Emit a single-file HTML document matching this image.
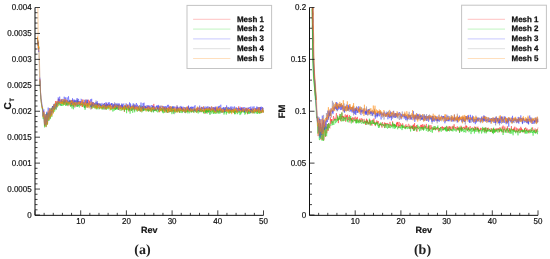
<!DOCTYPE html>
<html><head><meta charset="utf-8"><style>
html,body{margin:0;padding:0;background:#fff;}
svg{display:block;text-rendering:geometricPrecision;}
.t{font-family:"Liberation Sans",Arial,sans-serif;font-size:8.6px;fill:#111;stroke:#111;stroke-width:0.2px;}
.lg{font-family:"Liberation Sans",Arial,sans-serif;font-size:7.95px;font-weight:bold;fill:#111;stroke:#111;stroke-width:0.25px;}
.ax{font-family:"Liberation Sans",Arial,sans-serif;font-size:9px;font-weight:bold;fill:#111;stroke:#111;stroke-width:0.2px;}
.cap{font-family:"Liberation Serif","Times New Roman",serif;font-size:14px;font-weight:bold;fill:#222;}
</style></head><body>
<svg width="550" height="259" viewBox="0 0 550 259">
<polyline points="37.5,39.1 37.7,39.7 37.9,41.8 38.0,44.2 38.2,41.9 38.4,48.4 38.5,46.6 38.7,47.7 38.9,48.4" fill="none" stroke="#ff2020" stroke-width="0.7" stroke-linejoin="bevel"/>
<polyline points="38.9,50 39.30,70 39.90,86" fill="none" stroke="#ff2020" stroke-width="0.4" stroke-opacity="0.35"/>
<polyline points="37.5,40.4 37.7,41.4 37.9,43.6 38.0,44.5 38.2,44.9 38.4,46.4 38.5,48.7 38.7,47.3 38.9,49.9" fill="none" stroke="#8a7a9a" stroke-width="0.7" stroke-linejoin="bevel"/>
<polyline points="38.9,50 39.75,70 40.20,86" fill="none" stroke="#8a7a9a" stroke-width="0.4" stroke-opacity="0.35"/>
<polyline points="37.5,39.6 37.7,39.7 37.9,42.8 38.0,42.6 38.2,45.5 38.4,46.1 38.5,47.9 38.7,46.3 38.9,48.7" fill="none" stroke="#18d818" stroke-width="0.7" stroke-linejoin="bevel"/>
<polyline points="38.9,50 39.45,70 40.00,86" fill="none" stroke="#18d818" stroke-width="0.4" stroke-opacity="0.35"/>
<polyline points="37.5,41.0 37.7,40.6 37.9,41.6 38.0,44.6 38.2,45.6 38.4,45.8 38.5,46.3 38.7,51.6 38.9,51.0" fill="none" stroke="#3535ff" stroke-width="0.7" stroke-linejoin="bevel"/>
<polyline points="38.9,50 39.60,70 40.10,86" fill="none" stroke="#3535ff" stroke-width="0.4" stroke-opacity="0.35"/>
<polyline points="37.5,36.6 37.7,41.6 37.9,42.9 38.0,44.3 38.2,43.9 38.4,48.1 38.5,46.1 38.7,50.4 38.9,50.4" fill="none" stroke="#ff8a10" stroke-width="0.7" stroke-linejoin="bevel"/>
<polyline points="38.9,50 39.90,70 40.30,86" fill="none" stroke="#ff8a10" stroke-width="0.4" stroke-opacity="0.35"/>
<polyline points="37.6,39 37.9,7.5 39.3,60 39.6,84" fill="none" stroke="#ff8a10" stroke-width="0.45" stroke-opacity="0.45"/>
<polyline points="39.9,79.1 40.2,85.4 40.5,92.4 40.8,97.5 41.0,99.6 41.3,102.1 41.6,104.7 41.9,106.9 42.2,108.0 42.5,107.8 42.8,111.4 43.0,116.7 43.3,117.2 43.6,112.4 43.9,111.4 44.2,118.1 44.5,125.8 44.8,121.6 45.1,117.2 45.3,116.0 45.6,119.9 45.9,125.6 46.2,123.9 46.5,118.5 46.8,114.3 47.1,116.6 47.3,123.8 47.6,123.7 47.9,116.7 48.2,112.9 48.5,115.4 48.8,117.6 49.1,119.4 49.3,113.1 49.6,110.5 49.9,115.5 50.2,117.3 50.5,116.8 50.8,112.6 51.1,108.3 51.4,109.7 51.6,113.1 51.9,115.3 52.2,110.7 52.5,106.2 52.8,110.5 53.1,112.0 53.4,109.4 53.6,109.1 53.9,105.1 54.2,104.2 54.5,110.0 54.8,108.8 55.1,105.8 55.4,105.0 55.6,101.0 55.9,104.8 56.2,106.6 56.5,105.4 56.8,101.7 57.1,101.6 57.4,103.4 57.7,105.3 57.9,104.8 58.2,99.6 58.5,98.8 58.8,103.3 59.1,103.6 59.4,101.5 59.7,102.7 59.9,103.1 60.2,102.0 60.5,102.9 60.8,103.7 61.1,100.9 61.4,99.4 61.7,102.7 61.9,102.0 62.2,103.4 62.5,100.9 62.8,101.4 63.1,103.6 63.4,103.3 63.7,101.8 63.9,100.1 64.2,104.5 64.5,104.5 64.8,101.0 65.1,101.2 65.4,102.8 65.7,100.7 66.0,102.7 66.2,104.9 66.5,103.4 66.8,101.9 67.1,101.0 67.4,102.6 67.7,104.3 68.0,106.2 68.2,104.0 68.5,101.6 68.8,104.3 69.1,104.0 69.4,101.1 69.7,102.3 70.0,103.7 70.2,101.9 70.5,105.5 70.8,103.3 71.1,102.7 71.4,100.2 71.7,106.4 72.0,104.8 72.3,105.6 72.5,102.2 72.8,99.9 73.1,105.0 73.4,102.9 73.7,106.9 74.0,102.9 74.3,105.1 74.5,101.9 74.8,101.3 75.1,105.5 75.4,103.2 75.7,102.6 76.0,104.9 76.3,102.8 76.5,102.4 76.8,101.7 77.1,100.0 77.4,100.3 77.7,102.3 78.0,103.1 78.3,103.0 78.6,101.0 78.8,103.1 79.1,105.6 79.4,104.4 79.7,104.6 80.0,101.6 80.3,103.8 80.6,105.2 80.8,103.8 81.1,101.6 81.4,102.8 81.7,103.3 82.0,106.7 82.3,104.3 82.6,106.9 82.8,99.4 83.1,102.9 83.4,103.6 83.7,104.4 84.0,103.5 84.3,103.3 84.6,106.0 84.8,104.2 85.1,107.0 85.4,104.4 85.7,103.7 86.0,99.7 86.3,104.6 86.6,106.2 86.9,103.0 87.1,102.8 87.4,102.3 87.7,107.9 88.0,103.8 88.3,103.8 88.6,99.7 88.9,101.2 89.1,105.0 89.4,103.5 89.7,100.8 90.0,103.7 90.3,104.0 90.6,105.1 90.9,106.2 91.1,104.4 91.4,108.8 91.7,103.2 92.0,105.6 92.3,103.8 92.6,104.7 92.9,102.3 93.2,104.6 93.4,104.4 93.7,104.4 94.0,102.8 94.3,105.8 94.6,105.7 94.9,106.5 95.2,106.0 95.4,107.3 95.7,106.7 96.0,105.5 96.3,107.5 96.6,106.1 96.9,106.8 97.2,103.3 97.4,108.2 97.7,104.4 98.0,107.1 98.3,107.7 98.6,104.7 98.9,105.2 99.2,106.8 99.5,106.6 99.7,106.6 100.0,105.7 100.3,104.4 100.6,105.6 100.9,107.4 101.2,107.9 101.5,108.0 101.7,105.7 102.0,105.1 102.3,108.2 102.6,107.8 102.9,108.0 103.2,106.0 103.5,106.7 103.7,107.5 104.0,108.5 104.3,105.3 104.6,105.7 104.9,106.2 105.2,109.5 105.5,107.4 105.7,107.5 106.0,105.7 106.3,103.0 106.6,108.8 106.9,108.5 107.2,108.8 107.5,104.1 107.8,106.5 108.0,107.2 108.3,105.3 108.6,107.8 108.9,105.3 109.2,106.8 109.5,104.6 109.8,106.4 110.0,106.2 110.3,104.1 110.6,106.2 110.9,108.9 111.2,107.7 111.5,108.3 111.8,108.6 112.0,107.0 112.3,106.5 112.6,105.0 112.9,108.0 113.2,106.1 113.5,105.6 113.8,108.0 114.1,108.6 114.3,105.4 114.6,107.1 114.9,105.9 115.2,108.2 115.5,107.8 115.8,109.1 116.1,105.9 116.3,105.8 116.6,106.3 116.9,107.7 117.2,107.5 117.5,108.7 117.8,105.1 118.1,107.2 118.3,106.3 118.6,105.9 118.9,106.3 119.2,104.4 119.5,107.3 119.8,106.9 120.1,107.3 120.4,107.9 120.6,108.8 120.9,106.3 121.2,105.3 121.5,107.6 121.8,107.4 122.1,108.3 122.4,107.0 122.6,106.8 122.9,109.6 123.2,109.0 123.5,106.6 123.8,107.5 124.1,108.6 124.4,111.9 124.6,106.9 124.9,106.4 125.2,107.0 125.5,109.1 125.8,108.1 126.1,108.5 126.4,108.3 126.6,109.9 126.9,107.9 127.2,108.1 127.5,107.5 127.8,104.7 128.1,105.7 128.4,108.3 128.7,108.9 128.9,111.6 129.2,109.0 129.5,108.3 129.8,110.1 130.1,107.8 130.4,107.5 130.7,106.4 130.9,107.1 131.2,111.1 131.5,108.4 131.8,107.5 132.1,107.6 132.4,108.5 132.7,108.8 132.9,110.0 133.2,106.9 133.5,106.5 133.8,107.2 134.1,108.3 134.4,110.7 134.7,106.9 135.0,108.6 135.2,107.2 135.5,109.1 135.8,108.1 136.1,106.9 136.4,109.5 136.7,108.0 137.0,105.6 137.2,109.9 137.5,107.5 137.8,107.9 138.1,107.6 138.4,106.5 138.7,110.5 139.0,108.3 139.2,110.3 139.5,108.4 139.8,109.0 140.1,109.4 140.4,111.7 140.7,106.9 141.0,106.7 141.3,107.4 141.5,110.6 141.8,110.6 142.1,108.5 142.4,108.2 142.7,106.1 143.0,111.1 143.3,108.9 143.5,108.7 143.8,107.5 144.1,109.2 144.4,108.8 144.7,109.5 145.0,108.7 145.3,107.3 145.5,107.5 145.8,109.7 146.1,109.9 146.4,109.7 146.7,110.0 147.0,106.7 147.3,106.7 147.5,108.9 147.8,110.6 148.1,108.1 148.4,105.9 148.7,111.3 149.0,110.2 149.3,106.9 149.6,107.1 149.8,108.5 150.1,108.4 150.4,109.4 150.7,109.8 151.0,108.3 151.3,110.3 151.6,108.9 151.8,111.6 152.1,108.4 152.4,106.9 152.7,105.6 153.0,108.0 153.3,109.8 153.6,110.6 153.8,103.9 154.1,108.4 154.4,107.8 154.7,110.7 155.0,108.7 155.3,109.0 155.6,110.9 155.9,109.3 156.1,109.5 156.4,110.8 156.7,109.1 157.0,108.2 157.3,107.0 157.6,109.3 157.9,107.3 158.1,109.1 158.4,109.3 158.7,109.2 159.0,112.3 159.3,108.1 159.6,109.4 159.9,108.6 160.1,107.6 160.4,110.5 160.7,110.8 161.0,110.5 161.3,108.4 161.6,110.0 161.9,109.0 162.1,111.8 162.4,111.5 162.7,108.9 163.0,109.5 163.3,108.5 163.6,109.9 163.9,108.7 164.2,109.1 164.4,107.3 164.7,112.3 165.0,110.2 165.3,110.8 165.6,109.5 165.9,108.8 166.2,112.5 166.4,111.6 166.7,107.4 167.0,108.9 167.3,108.9 167.6,108.9 167.9,113.0 168.2,107.9 168.4,111.0 168.7,106.9 169.0,111.8 169.3,109.5 169.6,106.6 169.9,109.4 170.2,109.9 170.5,108.7 170.7,111.7 171.0,107.5 171.3,110.7 171.6,110.1 171.9,112.4 172.2,109.8 172.5,111.1 172.7,108.4 173.0,110.4 173.3,110.3 173.6,111.5 173.9,108.3 174.2,110.0 174.5,109.8 174.7,112.0 175.0,110.0 175.3,109.8 175.6,110.3 175.9,110.1 176.2,106.6 176.5,110.1 176.8,111.3 177.0,109.0 177.3,106.9 177.6,109.5 177.9,110.5 178.2,109.0 178.5,109.7 178.8,107.9 179.0,109.7 179.3,110.7 179.6,112.7 179.9,110.1 180.2,111.2 180.5,110.3 180.8,109.0 181.0,108.8 181.3,110.8 181.6,107.3 181.9,107.8 182.2,111.8 182.5,109.3 182.8,108.2 183.0,111.7 183.3,108.8 183.6,111.4 183.9,110.4 184.2,110.0 184.5,109.5 184.8,111.2 185.1,112.5 185.3,109.3 185.6,111.9 185.9,109.2 186.2,109.6 186.5,111.4 186.8,109.8 187.1,108.7 187.3,111.5 187.6,109.1 187.9,107.6 188.2,106.2 188.5,110.4 188.8,109.3 189.1,112.1 189.3,108.9 189.6,109.0 189.9,110.1 190.2,111.4 190.5,111.7 190.8,110.5 191.1,109.8 191.4,110.3 191.6,111.7 191.9,109.7 192.2,109.8 192.5,111.3 192.8,110.5 193.1,109.8 193.4,112.6 193.6,111.3 193.9,110.9 194.2,109.8 194.5,109.4 194.8,110.5 195.1,111.4 195.4,109.9 195.6,109.6 195.9,109.4 196.2,108.5 196.5,111.9 196.8,109.5 197.1,110.6 197.4,111.1 197.7,108.5 197.9,109.2 198.2,110.6 198.5,111.1 198.8,110.1 199.1,109.9 199.4,112.0 199.7,110.0 199.9,109.6 200.2,110.8 200.5,110.0 200.8,111.6 201.1,112.2 201.4,109.1 201.7,107.2 201.9,110.5 202.2,110.2 202.5,111.2 202.8,109.4 203.1,111.1 203.4,109.5 203.7,111.0 203.9,112.0 204.2,110.8 204.5,110.0 204.8,108.9 205.1,113.9 205.4,108.9 205.7,111.6 206.0,108.1 206.2,108.7 206.5,112.1 206.8,109.8 207.1,112.2 207.4,109.7 207.7,111.0 208.0,108.3 208.2,109.2 208.5,112.7 208.8,110.7 209.1,108.5 209.4,109.5 209.7,107.0 210.0,110.4 210.2,108.5 210.5,108.6 210.8,112.2 211.1,110.0 211.4,110.0 211.7,108.8 212.0,110.8 212.3,110.9 212.5,109.5 212.8,108.6 213.1,110.1 213.4,110.1 213.7,107.4 214.0,112.2 214.3,109.6 214.5,110.5 214.8,108.9 215.1,109.0 215.4,111.9 215.7,111.0 216.0,108.4 216.3,110.4 216.5,111.2 216.8,110.4 217.1,112.3 217.4,109.3 217.7,111.3 218.0,110.4 218.3,110.8 218.6,112.7 218.8,111.5 219.1,109.6 219.4,110.7 219.7,109.7 220.0,111.6 220.3,112.4 220.6,111.7 220.8,109.1 221.1,110.2 221.4,111.8 221.7,111.4 222.0,109.1 222.3,110.4 222.6,111.0 222.8,113.0 223.1,111.0 223.4,110.1 223.7,108.6 224.0,108.7 224.3,112.1 224.6,110.8 224.8,109.6 225.1,111.4 225.4,111.1 225.7,110.8 226.0,111.8 226.3,109.7 226.6,111.1 226.9,111.0 227.1,110.3 227.4,110.3 227.7,109.4 228.0,111.3 228.3,110.3 228.6,109.5 228.9,111.8 229.1,111.0 229.4,110.2 229.7,110.7 230.0,110.4 230.3,110.1 230.6,111.6 230.9,108.6 231.1,108.4 231.4,109.1 231.7,112.1 232.0,109.0 232.3,109.8 232.6,109.4 232.9,109.5 233.2,110.7 233.4,110.3 233.7,112.8 234.0,109.9 234.3,111.2 234.6,113.7 234.9,112.5 235.2,111.1 235.4,111.6 235.7,110.8 236.0,112.1 236.3,111.0 236.6,109.2 236.9,112.7 237.2,110.9 237.4,111.8 237.7,110.0 238.0,108.7 238.3,108.0 238.6,106.4 238.9,111.9 239.2,108.4 239.5,109.6 239.7,110.4 240.0,108.8 240.3,110.4 240.6,111.3 240.9,110.0 241.2,111.2 241.5,107.2 241.7,111.9 242.0,112.0 242.3,108.6 242.6,111.4 242.9,110.3 243.2,110.7 243.5,111.6 243.7,108.5 244.0,111.5 244.3,109.8 244.6,112.1 244.9,110.8 245.2,110.9 245.5,109.3 245.7,110.7 246.0,109.5 246.3,110.0 246.6,108.6 246.9,110.3 247.2,109.4 247.5,114.2 247.8,109.8 248.0,107.7 248.3,111.9 248.6,110.2 248.9,111.8 249.2,111.1 249.5,109.5 249.8,109.6 250.0,109.3 250.3,113.0 250.6,111.9 250.9,108.9 251.2,111.8 251.5,111.5 251.8,108.9 252.0,110.0 252.3,111.2 252.6,110.8 252.9,113.4 253.2,111.1 253.5,112.4 253.8,110.1 254.1,110.3 254.3,110.7 254.6,111.0 254.9,111.4 255.2,110.9 255.5,108.3 255.8,111.6 256.1,109.5 256.3,112.2 256.6,111.7 256.9,111.5 257.2,109.9 257.5,111.4 257.8,112.1 258.1,110.1 258.3,108.6 258.6,113.0 258.9,110.7 259.2,110.5 259.5,109.6 259.8,108.9 260.1,107.1 260.4,109.6 260.6,109.7 260.9,109.8 261.2,113.2 261.5,110.5 261.8,110.5 262.1,111.3 262.4,110.0 262.6,112.4 262.9,112.4 263.2,110.1 263.5,112.6" fill="none" stroke="#ff2020" stroke-width="0.45" stroke-opacity="1.0" stroke-linejoin="bevel"/>
<polyline points="39.9,79.8 40.2,83.8 40.5,92.8 40.8,96.9 41.0,100.0 41.3,101.7 41.6,104.9 41.9,105.8 42.2,106.7 42.5,108.1 42.8,111.9 43.0,116.6 43.3,116.8 43.6,112.7 43.9,112.7 44.2,118.3 44.5,124.6 44.8,121.2 45.1,119.0 45.3,114.7 45.6,122.4 45.9,127.2 46.2,127.1 46.5,119.2 46.8,114.4 47.1,120.9 47.3,122.5 47.6,123.6 47.9,112.6 48.2,112.0 48.5,116.8 48.8,120.2 49.1,118.0 49.3,111.7 49.6,109.4 49.9,114.2 50.2,117.9 50.5,115.4 50.8,109.1 51.1,109.3 51.4,107.9 51.6,112.9 51.9,112.3 52.2,110.6 52.5,106.9 52.8,108.8 53.1,111.6 53.4,110.0 53.6,108.5 53.9,107.2 54.2,105.9 54.5,109.7 54.8,108.7 55.1,107.7 55.4,104.6 55.6,105.6 55.9,107.0 56.2,109.6 56.5,103.9 56.8,101.8 57.1,101.8 57.4,105.6 57.7,104.0 57.9,102.1 58.2,102.7 58.5,103.7 58.8,104.2 59.1,99.2 59.4,100.9 59.7,99.4 59.9,99.3 60.2,101.7 60.5,106.0 60.8,101.7 61.1,99.9 61.4,102.4 61.7,102.4 61.9,103.2 62.2,101.2 62.5,101.2 62.8,101.9 63.1,99.1 63.4,100.3 63.7,104.2 63.9,102.7 64.2,100.3 64.5,100.5 64.8,102.7 65.1,100.5 65.4,100.8 65.7,103.9 66.0,102.4 66.2,105.0 66.5,102.3 66.8,102.2 67.1,103.6 67.4,100.0 67.7,102.6 68.0,102.6 68.2,102.2 68.5,104.0 68.8,103.5 69.1,100.8 69.4,102.6 69.7,100.5 70.0,100.0 70.2,105.7 70.5,101.7 70.8,103.7 71.1,101.0 71.4,103.1 71.7,103.0 72.0,103.7 72.3,103.3 72.5,104.3 72.8,100.3 73.1,101.3 73.4,101.8 73.7,105.8 74.0,102.2 74.3,100.3 74.5,101.9 74.8,107.8 75.1,103.7 75.4,104.2 75.7,102.9 76.0,102.7 76.3,102.7 76.5,103.5 76.8,102.5 77.1,98.7 77.4,107.0 77.7,105.4 78.0,104.4 78.3,103.0 78.6,101.2 78.8,104.4 79.1,103.6 79.4,105.1 79.7,101.2 80.0,103.2 80.3,106.2 80.6,103.6 80.8,105.8 81.1,103.8 81.4,104.6 81.7,104.8 82.0,104.2 82.3,103.7 82.6,104.4 82.8,103.1 83.1,102.1 83.4,104.9 83.7,105.5 84.0,102.7 84.3,103.0 84.6,107.9 84.8,105.6 85.1,105.1 85.4,108.4 85.7,102.6 86.0,99.3 86.3,101.2 86.6,102.6 86.9,105.0 87.1,105.1 87.4,100.0 87.7,106.2 88.0,103.2 88.3,105.2 88.6,104.5 88.9,104.2 89.1,104.5 89.4,105.6 89.7,103.2 90.0,104.4 90.3,105.2 90.6,106.0 90.9,109.6 91.1,107.0 91.4,105.4 91.7,106.5 92.0,105.1 92.3,103.6 92.6,102.0 92.9,106.5 93.2,105.0 93.4,106.2 93.7,105.3 94.0,106.3 94.3,107.7 94.6,104.8 94.9,103.3 95.2,105.3 95.4,108.2 95.7,103.4 96.0,100.5 96.3,101.6 96.6,104.1 96.9,107.5 97.2,105.5 97.4,103.6 97.7,103.3 98.0,106.2 98.3,106.3 98.6,104.8 98.9,104.6 99.2,104.3 99.5,109.3 99.7,103.1 100.0,106.1 100.3,103.6 100.6,106.6 100.9,106.2 101.2,107.4 101.5,106.9 101.7,105.6 102.0,107.1 102.3,104.5 102.6,108.4 102.9,105.9 103.2,106.0 103.5,107.9 103.7,108.3 104.0,110.0 104.3,103.0 104.6,104.0 104.9,107.1 105.2,104.9 105.5,106.8 105.7,109.0 106.0,106.9 106.3,104.2 106.6,107.3 106.9,108.1 107.2,106.7 107.5,105.6 107.8,105.9 108.0,104.4 108.3,107.4 108.6,105.3 108.9,106.4 109.2,106.4 109.5,105.3 109.8,108.2 110.0,107.4 110.3,105.9 110.6,106.8 110.9,106.2 111.2,106.9 111.5,107.1 111.8,106.0 112.0,107.5 112.3,103.2 112.6,107.0 112.9,104.2 113.2,105.4 113.5,106.2 113.8,106.6 114.1,108.8 114.3,107.7 114.6,102.3 114.9,104.3 115.2,108.8 115.5,109.7 115.8,107.4 116.1,104.2 116.3,109.0 116.6,103.6 116.9,107.9 117.2,107.3 117.5,106.9 117.8,104.3 118.1,106.0 118.3,109.0 118.6,106.8 118.9,104.7 119.2,106.0 119.5,106.7 119.8,107.3 120.1,106.5 120.4,107.5 120.6,105.9 120.9,104.9 121.2,107.8 121.5,107.6 121.8,107.1 122.1,103.8 122.4,105.5 122.6,108.2 122.9,109.1 123.2,107.5 123.5,106.5 123.8,107.6 124.1,108.9 124.4,110.3 124.6,107.8 124.9,105.7 125.2,107.4 125.5,104.9 125.8,108.1 126.1,106.7 126.4,106.6 126.6,107.4 126.9,107.7 127.2,106.1 127.5,107.0 127.8,105.6 128.1,106.8 128.4,108.2 128.7,106.9 128.9,108.6 129.2,108.6 129.5,106.5 129.8,108.7 130.1,106.3 130.4,107.1 130.7,108.2 130.9,104.5 131.2,107.0 131.5,107.1 131.8,109.5 132.1,108.6 132.4,106.1 132.7,107.9 132.9,104.8 133.2,109.2 133.5,107.7 133.8,108.8 134.1,104.5 134.4,108.9 134.7,107.7 135.0,103.8 135.2,106.1 135.5,107.6 135.8,109.6 136.1,108.5 136.4,106.7 136.7,107.7 137.0,107.6 137.2,107.6 137.5,107.0 137.8,107.8 138.1,107.4 138.4,110.3 138.7,108.0 139.0,110.7 139.2,108.2 139.5,108.8 139.8,106.6 140.1,107.4 140.4,108.2 140.7,109.0 141.0,107.5 141.3,108.8 141.5,109.0 141.8,110.1 142.1,108.2 142.4,106.7 142.7,108.5 143.0,108.8 143.3,111.1 143.5,107.8 143.8,107.6 144.1,107.4 144.4,110.2 144.7,110.0 145.0,109.0 145.3,105.8 145.5,105.8 145.8,109.0 146.1,109.9 146.4,110.2 146.7,105.2 147.0,107.6 147.3,106.4 147.5,107.7 147.8,108.1 148.1,109.0 148.4,107.1 148.7,107.7 149.0,108.6 149.3,110.2 149.6,111.0 149.8,105.8 150.1,108.3 150.4,108.5 150.7,110.1 151.0,108.4 151.3,110.0 151.6,107.3 151.8,109.1 152.1,108.1 152.4,106.4 152.7,107.7 153.0,107.1 153.3,112.1 153.6,109.3 153.8,106.6 154.1,107.1 154.4,111.0 154.7,108.6 155.0,109.8 155.3,108.9 155.6,109.4 155.9,109.5 156.1,109.0 156.4,108.2 156.7,105.8 157.0,107.9 157.3,108.8 157.6,108.8 157.9,108.9 158.1,106.7 158.4,111.0 158.7,108.0 159.0,107.9 159.3,108.4 159.6,108.2 159.9,109.1 160.1,105.4 160.4,110.0 160.7,108.4 161.0,108.3 161.3,109.5 161.6,109.7 161.9,108.5 162.1,109.2 162.4,111.1 162.7,110.0 163.0,109.8 163.3,109.4 163.6,110.7 163.9,109.3 164.2,107.5 164.4,107.3 164.7,110.1 165.0,110.0 165.3,110.5 165.6,107.7 165.9,110.6 166.2,108.9 166.4,111.3 166.7,109.7 167.0,107.6 167.3,107.4 167.6,109.3 167.9,109.3 168.2,110.3 168.4,107.5 168.7,106.7 169.0,109.4 169.3,112.3 169.6,111.4 169.9,107.7 170.2,108.4 170.5,109.9 170.7,108.9 171.0,108.9 171.3,108.3 171.6,107.3 171.9,108.6 172.2,109.2 172.5,109.7 172.7,107.1 173.0,108.9 173.3,108.1 173.6,108.8 173.9,107.9 174.2,114.2 174.5,110.5 174.7,111.3 175.0,111.0 175.3,109.2 175.6,109.0 175.9,109.2 176.2,110.1 176.5,110.8 176.8,111.7 177.0,105.0 177.3,108.1 177.6,110.4 177.9,109.5 178.2,109.5 178.5,111.1 178.8,109.2 179.0,111.9 179.3,110.0 179.6,110.1 179.9,107.7 180.2,106.3 180.5,108.9 180.8,110.1 181.0,109.4 181.3,107.4 181.6,109.8 181.9,109.6 182.2,110.1 182.5,108.9 182.8,111.5 183.0,111.0 183.3,109.8 183.6,109.9 183.9,110.3 184.2,111.6 184.5,112.8 184.8,109.4 185.1,109.5 185.3,107.6 185.6,113.2 185.9,107.5 186.2,110.6 186.5,110.7 186.8,111.9 187.1,108.3 187.3,106.8 187.6,109.6 187.9,110.6 188.2,111.7 188.5,107.2 188.8,108.4 189.1,109.0 189.3,108.2 189.6,109.9 189.9,110.7 190.2,109.0 190.5,107.4 190.8,110.4 191.1,111.3 191.4,110.4 191.6,110.2 191.9,107.1 192.2,110.6 192.5,111.0 192.8,109.2 193.1,109.1 193.4,108.2 193.6,111.6 193.9,109.8 194.2,108.5 194.5,109.5 194.8,109.4 195.1,110.8 195.4,109.1 195.6,108.9 195.9,109.8 196.2,112.3 196.5,110.5 196.8,108.4 197.1,110.1 197.4,108.2 197.7,106.8 197.9,108.9 198.2,109.5 198.5,110.5 198.8,111.1 199.1,110.8 199.4,110.9 199.7,109.7 199.9,110.2 200.2,109.3 200.5,111.2 200.8,108.9 201.1,109.5 201.4,112.1 201.7,110.2 201.9,108.7 202.2,110.0 202.5,110.5 202.8,110.3 203.1,110.6 203.4,109.8 203.7,109.5 203.9,109.6 204.2,107.8 204.5,109.0 204.8,110.9 205.1,110.0 205.4,109.4 205.7,109.8 206.0,108.5 206.2,109.7 206.5,112.4 206.8,112.7 207.1,111.8 207.4,110.7 207.7,109.0 208.0,108.0 208.2,110.3 208.5,109.7 208.8,110.9 209.1,109.6 209.4,108.9 209.7,110.8 210.0,114.2 210.2,108.6 210.5,110.9 210.8,110.5 211.1,110.1 211.4,109.3 211.7,109.9 212.0,109.7 212.3,110.7 212.5,111.2 212.8,110.8 213.1,109.0 213.4,109.9 213.7,109.0 214.0,108.8 214.3,111.6 214.5,109.1 214.8,107.9 215.1,109.7 215.4,107.6 215.7,110.3 216.0,110.6 216.3,109.0 216.5,109.9 216.8,113.1 217.1,112.3 217.4,111.3 217.7,110.4 218.0,108.9 218.3,109.9 218.6,110.0 218.8,110.1 219.1,109.8 219.4,108.5 219.7,112.3 220.0,109.0 220.3,110.6 220.6,111.0 220.8,109.6 221.1,109.2 221.4,110.5 221.7,112.8 222.0,110.5 222.3,109.2 222.6,110.9 222.8,110.2 223.1,107.7 223.4,110.1 223.7,111.0 224.0,111.6 224.3,110.4 224.6,108.4 224.8,111.4 225.1,109.4 225.4,111.0 225.7,112.0 226.0,110.8 226.3,109.7 226.6,108.8 226.9,109.4 227.1,110.5 227.4,109.7 227.7,110.4 228.0,107.0 228.3,108.6 228.6,110.4 228.9,109.5 229.1,109.2 229.4,108.1 229.7,110.9 230.0,112.6 230.3,109.1 230.6,111.5 230.9,107.7 231.1,110.1 231.4,107.7 231.7,111.1 232.0,110.0 232.3,109.9 232.6,111.6 232.9,111.2 233.2,110.4 233.4,108.9 233.7,109.8 234.0,109.0 234.3,109.8 234.6,112.5 234.9,111.3 235.2,110.1 235.4,110.8 235.7,108.4 236.0,110.7 236.3,107.9 236.6,108.9 236.9,110.4 237.2,110.9 237.4,111.5 237.7,110.4 238.0,109.9 238.3,109.9 238.6,112.2 238.9,112.3 239.2,108.2 239.5,110.0 239.7,111.6 240.0,109.9 240.3,110.8 240.6,109.4 240.9,108.2 241.2,110.0 241.5,109.7 241.7,110.3 242.0,108.3 242.3,108.3 242.6,109.6 242.9,109.6 243.2,111.2 243.5,108.8 243.7,110.8 244.0,110.5 244.3,110.3 244.6,111.3 244.9,110.2 245.2,109.6 245.5,109.7 245.7,108.4 246.0,110.4 246.3,111.4 246.6,107.7 246.9,110.7 247.2,109.2 247.5,109.9 247.8,110.4 248.0,110.2 248.3,111.6 248.6,109.9 248.9,112.7 249.2,110.4 249.5,110.6 249.8,110.7 250.0,109.2 250.3,108.9 250.6,110.5 250.9,111.0 251.2,111.0 251.5,109.6 251.8,112.8 252.0,110.3 252.3,109.2 252.6,111.5 252.9,111.8 253.2,109.3 253.5,111.7 253.8,108.5 254.1,110.0 254.3,113.3 254.6,112.3 254.9,111.6 255.2,111.2 255.5,109.0 255.8,110.7 256.1,111.2 256.3,109.3 256.6,110.7 256.9,110.9 257.2,110.6 257.5,111.2 257.8,110.5 258.1,109.0 258.3,110.2 258.6,107.7 258.9,109.7 259.2,112.3 259.5,112.9 259.8,110.8 260.1,107.1 260.4,112.5 260.6,111.6 260.9,110.3 261.2,111.3 261.5,111.1 261.8,109.1 262.1,109.1 262.4,112.0 262.6,107.2 262.9,111.1 263.2,111.1 263.5,112.2" fill="none" stroke="#8a7a9a" stroke-width="0.45" stroke-opacity="1.0" stroke-linejoin="bevel"/>
<polyline points="39.9,80.6 40.2,87.3 40.5,94.4 40.8,98.0 41.0,100.5 41.3,102.7 41.6,105.5 41.9,107.2 42.2,109.2 42.5,107.7 42.8,114.3 43.0,118.3 43.3,119.1 43.6,113.3 43.9,113.1 44.2,120.8 44.5,127.4 44.8,124.6 45.1,118.3 45.3,117.3 45.6,121.1 45.9,126.0 46.2,126.5 46.5,117.7 46.8,112.8 47.1,119.1 47.3,124.7 47.6,121.5 47.9,114.0 48.2,113.1 48.5,118.1 48.8,121.0 49.1,119.0 49.3,115.0 49.6,112.5 49.9,113.6 50.2,118.8 50.5,119.0 50.8,112.3 51.1,108.4 51.4,112.3 51.6,115.7 51.9,116.9 52.2,108.7 52.5,106.9 52.8,108.1 53.1,109.7 53.4,112.8 53.6,110.0 53.9,105.1 54.2,109.7 54.5,111.5 54.8,111.4 55.1,108.1 55.4,106.6 55.6,103.4 55.9,109.0 56.2,109.3 56.5,103.0 56.8,104.4 57.1,103.8 57.4,107.4 57.7,105.8 57.9,104.7 58.2,103.6 58.5,101.8 58.8,105.8 59.1,105.0 59.4,104.8 59.7,101.8 59.9,104.6 60.2,104.9 60.5,104.2 60.8,104.8 61.1,104.8 61.4,105.7 61.7,101.2 61.9,106.0 62.2,104.6 62.5,102.6 62.8,101.0 63.1,105.8 63.4,102.4 63.7,104.8 63.9,104.9 64.2,100.0 64.5,103.2 64.8,102.3 65.1,104.4 65.4,105.4 65.7,106.0 66.0,100.7 66.2,103.6 66.5,105.3 66.8,105.7 67.1,103.5 67.4,102.5 67.7,105.2 68.0,104.4 68.2,102.9 68.5,101.7 68.8,104.5 69.1,105.3 69.4,104.4 69.7,103.1 70.0,100.9 70.2,103.1 70.5,106.9 70.8,104.5 71.1,101.3 71.4,105.4 71.7,104.8 72.0,108.5 72.3,105.1 72.5,103.2 72.8,100.9 73.1,106.2 73.4,109.3 73.7,103.8 74.0,103.1 74.3,104.5 74.5,102.7 74.8,104.8 75.1,104.8 75.4,104.7 75.7,105.4 76.0,104.2 76.3,106.8 76.5,104.8 76.8,105.1 77.1,100.3 77.4,101.9 77.7,106.7 78.0,104.7 78.3,105.7 78.6,104.8 78.8,106.5 79.1,106.8 79.4,107.5 79.7,104.8 80.0,103.0 80.3,103.2 80.6,104.7 80.8,104.2 81.1,104.3 81.4,104.2 81.7,104.9 82.0,105.1 82.3,103.0 82.6,105.3 82.8,104.9 83.1,106.4 83.4,106.6 83.7,105.2 84.0,104.5 84.3,107.9 84.6,105.9 84.8,108.7 85.1,109.9 85.4,104.5 85.7,105.5 86.0,105.6 86.3,106.7 86.6,107.4 86.9,106.4 87.1,105.3 87.4,102.5 87.7,105.6 88.0,105.5 88.3,106.5 88.6,104.5 88.9,106.0 89.1,107.3 89.4,107.3 89.7,107.0 90.0,105.6 90.3,104.5 90.6,105.8 90.9,106.2 91.1,107.4 91.4,105.8 91.7,106.3 92.0,104.1 92.3,108.5 92.6,105.8 92.9,104.9 93.2,105.3 93.4,105.5 93.7,107.8 94.0,106.4 94.3,104.6 94.6,104.5 94.9,108.5 95.2,107.6 95.4,105.7 95.7,106.6 96.0,103.6 96.3,109.4 96.6,105.3 96.9,108.5 97.2,107.7 97.4,104.0 97.7,107.3 98.0,109.4 98.3,108.7 98.6,107.6 98.9,107.9 99.2,107.2 99.5,108.5 99.7,108.1 100.0,108.4 100.3,105.2 100.6,108.3 100.9,107.3 101.2,106.7 101.5,108.1 101.7,109.3 102.0,108.5 102.3,107.3 102.6,109.5 102.9,107.0 103.2,106.7 103.5,107.2 103.7,104.6 104.0,108.8 104.3,106.3 104.6,105.9 104.9,104.9 105.2,105.8 105.5,107.2 105.7,109.2 106.0,109.6 106.3,107.1 106.6,109.7 106.9,108.3 107.2,105.3 107.5,107.4 107.8,107.9 108.0,107.5 108.3,109.2 108.6,109.1 108.9,106.1 109.2,105.1 109.5,107.8 109.8,108.5 110.0,107.9 110.3,108.9 110.6,109.8 110.9,107.5 111.2,109.9 111.5,109.9 111.8,108.6 112.0,108.9 112.3,107.6 112.6,110.0 112.9,111.6 113.2,108.9 113.5,106.5 113.8,109.0 114.1,110.8 114.3,109.3 114.6,107.0 114.9,109.7 115.2,106.3 115.5,109.7 115.8,108.8 116.1,106.3 116.3,109.3 116.6,108.6 116.9,107.4 117.2,109.8 117.5,107.5 117.8,104.9 118.1,107.2 118.3,109.4 118.6,110.0 118.9,108.5 119.2,107.7 119.5,108.8 119.8,108.8 120.1,110.8 120.4,108.6 120.6,108.2 120.9,108.9 121.2,107.6 121.5,108.3 121.8,110.6 122.1,108.3 122.4,107.8 122.6,109.6 122.9,108.7 123.2,109.0 123.5,107.0 123.8,108.6 124.1,107.0 124.4,111.3 124.6,108.1 124.9,105.8 125.2,107.9 125.5,108.7 125.8,109.8 126.1,107.3 126.4,108.7 126.6,113.2 126.9,107.4 127.2,110.1 127.5,108.6 127.8,108.5 128.1,105.9 128.4,107.6 128.7,110.3 128.9,109.1 129.2,110.6 129.5,107.4 129.8,109.4 130.1,113.7 130.4,108.3 130.7,107.2 130.9,108.4 131.2,109.2 131.5,111.0 131.8,109.6 132.1,107.5 132.4,108.7 132.7,112.8 132.9,111.6 133.2,105.8 133.5,108.5 133.8,107.3 134.1,110.1 134.4,109.7 134.7,112.3 135.0,110.1 135.2,109.8 135.5,109.5 135.8,109.9 136.1,110.2 136.4,110.7 136.7,109.3 137.0,108.8 137.2,111.7 137.5,110.1 137.8,109.0 138.1,107.6 138.4,108.5 138.7,109.2 139.0,106.2 139.2,110.6 139.5,109.5 139.8,109.0 140.1,111.5 140.4,110.7 140.7,109.8 141.0,105.5 141.3,109.0 141.5,110.8 141.8,112.4 142.1,111.9 142.4,110.8 142.7,107.7 143.0,107.2 143.3,111.0 143.5,109.6 143.8,110.2 144.1,109.1 144.4,110.4 144.7,108.3 145.0,110.2 145.3,108.4 145.5,109.8 145.8,110.8 146.1,110.2 146.4,110.2 146.7,109.1 147.0,110.4 147.3,110.8 147.5,109.7 147.8,109.1 148.1,111.5 148.4,109.2 148.7,111.5 149.0,111.1 149.3,109.2 149.6,108.2 149.8,109.5 150.1,110.5 150.4,111.4 150.7,108.4 151.0,108.5 151.3,109.3 151.6,112.3 151.8,107.4 152.1,110.8 152.4,108.7 152.7,110.0 153.0,109.5 153.3,111.2 153.6,112.4 153.8,110.0 154.1,110.0 154.4,110.7 154.7,109.7 155.0,111.1 155.3,109.3 155.6,108.4 155.9,110.1 156.1,110.4 156.4,111.5 156.7,109.7 157.0,108.8 157.3,112.1 157.6,112.1 157.9,112.3 158.1,110.6 158.4,109.4 158.7,109.6 159.0,110.4 159.3,111.9 159.6,110.1 159.9,107.6 160.1,110.1 160.4,108.9 160.7,111.0 161.0,108.4 161.3,107.9 161.6,110.3 161.9,110.8 162.1,108.6 162.4,111.1 162.7,112.6 163.0,108.2 163.3,113.3 163.6,110.0 163.9,109.6 164.2,109.5 164.4,108.2 164.7,112.7 165.0,111.7 165.3,109.3 165.6,109.5 165.9,108.1 166.2,110.5 166.4,112.3 166.7,108.1 167.0,109.3 167.3,110.4 167.6,112.4 167.9,113.0 168.2,109.9 168.4,109.0 168.7,110.8 169.0,110.5 169.3,110.8 169.6,112.1 169.9,112.3 170.2,110.6 170.5,110.7 170.7,112.0 171.0,108.2 171.3,110.1 171.6,108.8 171.9,114.2 172.2,112.3 172.5,111.0 172.7,109.9 173.0,106.9 173.3,111.9 173.6,113.6 173.9,110.0 174.2,111.2 174.5,111.3 174.7,108.9 175.0,112.7 175.3,112.9 175.6,110.7 175.9,110.2 176.2,112.0 176.5,109.4 176.8,111.3 177.0,111.9 177.3,108.7 177.6,112.3 177.9,110.9 178.2,108.4 178.5,110.4 178.8,109.1 179.0,111.4 179.3,110.0 179.6,112.7 179.9,109.7 180.2,110.9 180.5,110.2 180.8,111.1 181.0,113.0 181.3,111.0 181.6,109.9 181.9,109.3 182.2,113.1 182.5,112.4 182.8,110.3 183.0,110.8 183.3,109.5 183.6,110.2 183.9,110.4 184.2,111.3 184.5,110.9 184.8,109.9 185.1,112.5 185.3,112.6 185.6,111.1 185.9,111.9 186.2,110.5 186.5,111.4 186.8,112.2 187.1,110.9 187.3,111.6 187.6,109.2 187.9,113.4 188.2,110.5 188.5,110.8 188.8,108.7 189.1,111.6 189.3,113.2 189.6,113.1 189.9,112.2 190.2,108.5 190.5,109.8 190.8,110.8 191.1,110.4 191.4,112.7 191.6,110.9 191.9,110.8 192.2,112.1 192.5,110.4 192.8,110.0 193.1,109.5 193.4,111.5 193.6,111.9 193.9,112.5 194.2,112.7 194.5,108.9 194.8,110.0 195.1,111.6 195.4,109.9 195.6,110.6 195.9,112.1 196.2,112.3 196.5,112.8 196.8,111.8 197.1,111.1 197.4,112.2 197.7,110.3 197.9,111.8 198.2,113.5 198.5,110.9 198.8,110.0 199.1,110.8 199.4,112.1 199.7,112.4 199.9,111.7 200.2,111.6 200.5,108.6 200.8,110.1 201.1,112.0 201.4,110.3 201.7,109.1 201.9,109.1 202.2,110.0 202.5,111.5 202.8,110.2 203.1,111.3 203.4,113.1 203.7,111.0 203.9,113.5 204.2,112.0 204.5,109.5 204.8,110.5 205.1,109.9 205.4,112.8 205.7,110.1 206.0,112.9 206.2,111.6 206.5,108.5 206.8,112.8 207.1,113.8 207.4,110.1 207.7,112.2 208.0,108.8 208.2,112.1 208.5,109.5 208.8,111.9 209.1,108.4 209.4,107.6 209.7,112.3 210.0,114.9 210.2,110.5 210.5,112.0 210.8,111.3 211.1,111.3 211.4,112.6 211.7,113.5 212.0,109.2 212.3,111.9 212.5,112.2 212.8,109.9 213.1,113.6 213.4,113.6 213.7,109.8 214.0,114.0 214.3,111.9 214.5,111.2 214.8,113.0 215.1,111.4 215.4,112.1 215.7,113.9 216.0,113.2 216.3,112.2 216.5,109.2 216.8,109.5 217.1,113.4 217.4,110.3 217.7,111.3 218.0,109.7 218.3,111.4 218.6,110.2 218.8,113.8 219.1,109.7 219.4,110.9 219.7,111.3 220.0,113.6 220.3,109.7 220.6,111.1 220.8,110.8 221.1,112.3 221.4,112.6 221.7,111.1 222.0,111.5 222.3,110.6 222.6,112.2 222.8,111.8 223.1,110.9 223.4,111.2 223.7,111.6 224.0,114.6 224.3,111.3 224.6,112.2 224.8,113.3 225.1,108.3 225.4,109.2 225.7,110.3 226.0,111.7 226.3,114.6 226.6,111.7 226.9,113.1 227.1,111.6 227.4,108.5 227.7,108.3 228.0,112.5 228.3,111.7 228.6,110.2 228.9,113.4 229.1,109.4 229.4,112.7 229.7,113.4 230.0,110.9 230.3,110.4 230.6,112.6 230.9,109.7 231.1,112.6 231.4,110.3 231.7,113.1 232.0,111.7 232.3,110.6 232.6,110.2 232.9,112.2 233.2,109.4 233.4,111.2 233.7,110.7 234.0,112.4 234.3,110.2 234.6,114.3 234.9,111.2 235.2,109.7 235.4,113.3 235.7,114.2 236.0,111.8 236.3,110.5 236.6,111.3 236.9,110.5 237.2,111.5 237.4,114.2 237.7,112.3 238.0,111.5 238.3,111.9 238.6,111.8 238.9,113.2 239.2,113.0 239.5,110.9 239.7,111.6 240.0,115.1 240.3,112.7 240.6,111.6 240.9,114.2 241.2,111.4 241.5,110.4 241.7,113.0 242.0,110.7 242.3,110.8 242.6,111.9 242.9,111.7 243.2,111.1 243.5,111.2 243.7,110.7 244.0,113.0 244.3,110.9 244.6,111.4 244.9,114.7 245.2,110.8 245.5,113.5 245.7,113.6 246.0,111.9 246.3,110.1 246.6,112.2 246.9,112.4 247.2,113.1 247.5,112.2 247.8,113.7 248.0,113.5 248.3,110.1 248.6,113.7 248.9,112.4 249.2,111.3 249.5,111.2 249.8,114.0 250.0,113.1 250.3,109.7 250.6,112.2 250.9,111.5 251.2,111.3 251.5,111.1 251.8,110.2 252.0,113.3 252.3,110.5 252.6,111.0 252.9,111.0 253.2,111.2 253.5,113.2 253.8,112.3 254.1,110.6 254.3,110.5 254.6,111.5 254.9,113.5 255.2,112.0 255.5,111.9 255.8,111.3 256.1,111.8 256.3,112.5 256.6,109.4 256.9,113.8 257.2,110.7 257.5,111.4 257.8,114.0 258.1,112.2 258.3,111.7 258.6,111.0 258.9,110.0 259.2,112.5 259.5,113.6 259.8,110.5 260.1,113.6 260.4,110.6 260.6,111.3 260.9,112.7 261.2,111.7 261.5,112.7 261.8,111.1 262.1,110.9 262.4,109.5 262.6,110.1 262.9,110.3 263.2,110.2 263.5,112.7" fill="none" stroke="#18d818" stroke-width="0.45" stroke-opacity="1.0" stroke-linejoin="bevel"/>
<polyline points="39.9,77.6 40.2,84.2 40.5,91.2 40.8,95.7 41.0,98.7 41.3,99.2 41.6,101.7 41.9,103.3 42.2,105.5 42.5,107.0 42.8,110.0 43.0,115.8 43.3,113.7 43.6,110.6 43.9,109.5 44.2,119.3 44.5,124.5 44.8,122.9 45.1,115.4 45.3,114.2 45.6,120.0 45.9,124.6 46.2,122.3 46.5,115.4 46.8,111.7 47.1,116.4 47.3,122.0 47.6,119.2 47.9,114.3 48.2,107.6 48.5,115.0 48.8,117.4 49.1,116.3 49.3,109.3 49.6,108.2 49.9,110.7 50.2,115.3 50.5,113.5 50.8,109.8 51.1,109.7 51.4,109.4 51.6,111.3 51.9,113.6 52.2,107.7 52.5,106.0 52.8,107.6 53.1,109.0 53.4,106.4 53.6,105.5 53.9,104.3 54.2,103.8 54.5,107.9 54.8,109.0 55.1,103.5 55.4,104.1 55.6,105.4 55.9,106.8 56.2,107.3 56.5,104.8 56.8,104.6 57.1,101.6 57.4,103.1 57.7,104.5 57.9,100.2 58.2,97.4 58.5,98.8 58.8,102.4 59.1,103.0 59.4,98.4 59.7,96.6 59.9,99.3 60.2,100.6 60.5,101.4 60.8,101.9 61.1,101.7 61.4,100.1 61.7,101.9 61.9,99.7 62.2,98.9 62.5,100.1 62.8,100.8 63.1,102.0 63.4,102.5 63.7,102.2 63.9,101.1 64.2,96.7 64.5,99.5 64.8,102.2 65.1,102.0 65.4,97.4 65.7,101.6 66.0,100.0 66.2,101.2 66.5,101.6 66.8,101.3 67.1,97.4 67.4,102.4 67.7,101.8 68.0,100.1 68.2,99.8 68.5,96.3 68.8,99.8 69.1,102.1 69.4,100.4 69.7,99.9 70.0,99.8 70.2,101.0 70.5,103.6 70.8,101.7 71.1,100.3 71.4,101.1 71.7,104.4 72.0,101.4 72.3,102.8 72.5,98.3 72.8,102.5 73.1,102.1 73.4,104.3 73.7,102.1 74.0,99.4 74.3,101.9 74.5,102.3 74.8,100.8 75.1,99.9 75.4,102.1 75.7,100.4 76.0,105.5 76.3,101.3 76.5,101.6 76.8,101.4 77.1,98.1 77.4,99.8 77.7,105.1 78.0,102.5 78.3,100.8 78.6,98.9 78.8,102.3 79.1,103.5 79.4,103.3 79.7,101.4 80.0,101.6 80.3,102.0 80.6,101.4 80.8,104.0 81.1,98.8 81.4,99.2 81.7,101.0 82.0,102.4 82.3,101.3 82.6,103.0 82.8,103.2 83.1,102.3 83.4,103.0 83.7,104.6 84.0,103.3 84.3,99.8 84.6,101.4 84.8,104.8 85.1,101.6 85.4,103.0 85.7,101.2 86.0,100.4 86.3,101.2 86.6,103.7 86.9,103.6 87.1,102.6 87.4,99.6 87.7,102.4 88.0,104.2 88.3,104.8 88.6,103.3 88.9,103.4 89.1,104.7 89.4,105.1 89.7,102.2 90.0,102.6 90.3,101.1 90.6,99.3 90.9,101.3 91.1,107.0 91.4,101.0 91.7,98.8 92.0,102.3 92.3,106.5 92.6,103.9 92.9,103.7 93.2,102.2 93.4,103.2 93.7,106.3 94.0,105.5 94.3,103.2 94.6,104.2 94.9,105.2 95.2,104.2 95.4,104.9 95.7,104.0 96.0,102.0 96.3,105.4 96.6,104.4 96.9,103.8 97.2,101.3 97.4,101.3 97.7,106.2 98.0,103.1 98.3,105.7 98.6,103.6 98.9,104.3 99.2,104.9 99.5,103.8 99.7,104.8 100.0,104.6 100.3,103.9 100.6,104.0 100.9,104.6 101.2,106.3 101.5,106.6 101.7,104.6 102.0,102.9 102.3,105.7 102.6,105.6 102.9,105.4 103.2,106.7 103.5,103.8 103.7,105.1 104.0,104.2 104.3,104.4 104.6,103.1 104.9,106.5 105.2,105.6 105.5,104.8 105.7,107.9 106.0,102.1 106.3,105.4 106.6,106.6 106.9,106.5 107.2,104.7 107.5,104.0 107.8,103.7 108.0,106.3 108.3,102.3 108.6,104.5 108.9,104.6 109.2,103.4 109.5,102.4 109.8,105.4 110.0,104.3 110.3,105.6 110.6,106.3 110.9,105.2 111.2,103.0 111.5,105.2 111.8,103.2 112.0,105.3 112.3,107.6 112.6,106.4 112.9,108.6 113.2,106.9 113.5,105.4 113.8,103.9 114.1,106.3 114.3,103.8 114.6,106.5 114.9,104.8 115.2,107.3 115.5,106.6 115.8,103.3 116.1,106.1 116.3,106.1 116.6,107.7 116.9,104.8 117.2,104.9 117.5,105.4 117.8,103.3 118.1,103.4 118.3,104.7 118.6,110.0 118.9,104.5 119.2,103.4 119.5,104.7 119.8,106.2 120.1,108.2 120.4,106.8 120.6,106.0 120.9,105.4 121.2,106.5 121.5,105.5 121.8,103.5 122.1,107.8 122.4,104.7 122.6,107.7 122.9,106.1 123.2,105.6 123.5,104.8 123.8,103.5 124.1,106.2 124.4,107.1 124.6,107.0 124.9,105.8 125.2,106.8 125.5,106.7 125.8,106.7 126.1,103.3 126.4,104.5 126.6,107.5 126.9,106.5 127.2,107.8 127.5,105.9 127.8,104.4 128.1,108.2 128.4,106.8 128.7,108.8 128.9,107.0 129.2,105.1 129.5,102.4 129.8,106.4 130.1,104.8 130.4,103.4 130.7,107.2 130.9,106.5 131.2,107.2 131.5,107.0 131.8,106.5 132.1,106.2 132.4,105.8 132.7,106.4 132.9,108.0 133.2,103.3 133.5,107.0 133.8,104.7 134.1,107.5 134.4,108.6 134.7,105.6 135.0,107.0 135.2,106.7 135.5,105.4 135.8,106.3 136.1,107.0 136.4,103.0 136.7,105.0 137.0,106.5 137.2,106.4 137.5,104.7 137.8,105.5 138.1,107.7 138.4,108.1 138.7,106.9 139.0,105.9 139.2,106.2 139.5,105.8 139.8,105.4 140.1,106.7 140.4,107.9 140.7,107.6 141.0,102.5 141.3,107.6 141.5,107.3 141.8,108.7 142.1,106.4 142.4,106.5 142.7,108.5 143.0,103.1 143.3,109.4 143.5,106.8 143.8,103.5 144.1,102.7 144.4,107.6 144.7,105.9 145.0,108.0 145.3,106.3 145.5,106.1 145.8,108.5 146.1,107.7 146.4,107.8 146.7,107.2 147.0,106.8 147.3,108.2 147.5,108.5 147.8,105.0 148.1,105.8 148.4,106.2 148.7,106.6 149.0,105.4 149.3,106.2 149.6,106.7 149.8,106.6 150.1,109.2 150.4,106.8 150.7,106.5 151.0,105.6 151.3,106.0 151.6,106.3 151.8,105.1 152.1,107.6 152.4,107.8 152.7,107.9 153.0,105.7 153.3,107.4 153.6,109.8 153.8,106.4 154.1,106.9 154.4,106.9 154.7,109.1 155.0,108.7 155.3,109.8 155.6,107.1 155.9,107.8 156.1,106.1 156.4,106.9 156.7,105.8 157.0,106.1 157.3,105.4 157.6,109.4 157.9,106.1 158.1,107.2 158.4,104.9 158.7,107.6 159.0,110.1 159.3,106.6 159.6,107.4 159.9,106.5 160.1,107.5 160.4,108.4 160.7,106.9 161.0,106.8 161.3,105.9 161.6,106.0 161.9,106.2 162.1,109.1 162.4,106.1 162.7,107.6 163.0,107.9 163.3,106.5 163.6,109.3 163.9,106.1 164.2,107.6 164.4,109.1 164.7,106.9 165.0,106.7 165.3,106.1 165.6,109.9 165.9,106.7 166.2,106.2 166.4,109.2 166.7,107.2 167.0,106.8 167.3,105.8 167.6,104.9 167.9,107.1 168.2,106.1 168.4,104.8 168.7,105.7 169.0,106.7 169.3,109.3 169.6,108.6 169.9,107.7 170.2,106.5 170.5,106.2 170.7,108.6 171.0,108.4 171.3,108.5 171.6,107.2 171.9,107.8 172.2,108.7 172.5,106.6 172.7,106.1 173.0,108.1 173.3,106.3 173.6,108.2 173.9,109.0 174.2,107.6 174.5,107.9 174.7,106.5 175.0,108.2 175.3,107.7 175.6,108.2 175.9,107.9 176.2,108.0 176.5,111.0 176.8,108.9 177.0,107.1 177.3,106.5 177.6,108.0 177.9,107.8 178.2,110.5 178.5,108.3 178.8,107.0 179.0,107.1 179.3,107.1 179.6,108.0 179.9,109.5 180.2,108.6 180.5,107.9 180.8,108.8 181.0,105.9 181.3,108.8 181.6,107.2 181.9,109.9 182.2,108.3 182.5,107.8 182.8,108.1 183.0,106.6 183.3,109.8 183.6,109.0 183.9,109.0 184.2,108.3 184.5,107.1 184.8,108.6 185.1,108.8 185.3,111.0 185.6,108.0 185.9,108.1 186.2,107.3 186.5,108.1 186.8,108.2 187.1,109.8 187.3,107.7 187.6,109.3 187.9,108.3 188.2,108.2 188.5,105.5 188.8,108.8 189.1,110.7 189.3,108.3 189.6,110.7 189.9,109.4 190.2,106.8 190.5,109.0 190.8,107.4 191.1,108.4 191.4,109.9 191.6,108.0 191.9,106.4 192.2,110.5 192.5,107.3 192.8,108.1 193.1,107.3 193.4,107.7 193.6,107.4 193.9,106.6 194.2,110.9 194.5,106.6 194.8,106.7 195.1,105.2 195.4,109.0 195.6,110.2 195.9,109.8 196.2,111.6 196.5,110.5 196.8,109.4 197.1,108.6 197.4,109.9 197.7,107.9 197.9,108.8 198.2,107.6 198.5,108.7 198.8,110.6 199.1,107.8 199.4,109.0 199.7,105.6 199.9,110.4 200.2,108.5 200.5,109.8 200.8,108.8 201.1,107.7 201.4,106.8 201.7,108.7 201.9,107.9 202.2,107.1 202.5,108.8 202.8,107.8 203.1,109.0 203.4,107.3 203.7,106.7 203.9,108.7 204.2,107.9 204.5,110.1 204.8,107.2 205.1,106.5 205.4,108.7 205.7,108.3 206.0,108.5 206.2,108.1 206.5,106.8 206.8,108.6 207.1,108.5 207.4,106.5 207.7,107.0 208.0,108.4 208.2,106.5 208.5,107.2 208.8,107.5 209.1,107.7 209.4,108.8 209.7,106.8 210.0,109.1 210.2,109.0 210.5,109.9 210.8,107.5 211.1,107.4 211.4,106.6 211.7,109.0 212.0,109.5 212.3,107.1 212.5,109.2 212.8,109.9 213.1,109.6 213.4,107.3 213.7,108.9 214.0,108.6 214.3,107.6 214.5,108.8 214.8,108.5 215.1,106.8 215.4,109.3 215.7,111.6 216.0,106.5 216.3,109.0 216.5,109.4 216.8,108.7 217.1,109.4 217.4,108.2 217.7,109.9 218.0,106.9 218.3,108.4 218.6,106.3 218.8,109.0 219.1,108.6 219.4,105.8 219.7,107.4 220.0,109.5 220.3,108.0 220.6,106.5 220.8,104.7 221.1,109.0 221.4,111.5 221.7,108.0 222.0,108.7 222.3,108.6 222.6,108.4 222.8,109.0 223.1,108.8 223.4,107.0 223.7,111.4 224.0,112.1 224.3,109.3 224.6,111.1 224.8,107.1 225.1,107.7 225.4,110.0 225.7,107.3 226.0,107.0 226.3,108.7 226.6,105.4 226.9,110.8 227.1,109.9 227.4,109.1 227.7,109.2 228.0,106.9 228.3,107.2 228.6,110.0 228.9,110.1 229.1,108.6 229.4,108.1 229.7,107.7 230.0,110.8 230.3,106.9 230.6,107.3 230.9,107.5 231.1,106.4 231.4,107.1 231.7,107.6 232.0,109.9 232.3,110.7 232.6,108.9 232.9,106.7 233.2,108.2 233.4,108.4 233.7,107.9 234.0,107.9 234.3,109.6 234.6,106.4 234.9,107.9 235.2,108.6 235.4,109.4 235.7,109.3 236.0,109.1 236.3,108.5 236.6,107.4 236.9,108.6 237.2,108.6 237.4,108.1 237.7,110.4 238.0,110.0 238.3,108.0 238.6,109.8 238.9,110.7 239.2,109.2 239.5,108.6 239.7,109.2 240.0,106.7 240.3,107.2 240.6,109.6 240.9,108.8 241.2,110.3 241.5,108.2 241.7,110.7 242.0,110.4 242.3,111.2 242.6,107.4 242.9,108.4 243.2,109.6 243.5,109.3 243.7,107.2 244.0,107.7 244.3,107.1 244.6,112.3 244.9,108.9 245.2,108.6 245.5,107.7 245.7,108.9 246.0,110.3 246.3,108.6 246.6,108.6 246.9,111.5 247.2,110.1 247.5,109.5 247.8,108.5 248.0,108.7 248.3,107.5 248.6,109.2 248.9,108.3 249.2,108.1 249.5,108.2 249.8,107.1 250.0,109.1 250.3,112.6 250.6,108.3 250.9,106.5 251.2,109.8 251.5,108.6 251.8,111.8 252.0,109.6 252.3,110.0 252.6,107.5 252.9,106.6 253.2,108.9 253.5,110.0 253.8,107.6 254.1,106.4 254.3,107.9 254.6,108.5 254.9,108.7 255.2,108.7 255.5,111.7 255.8,108.7 256.1,108.4 256.3,107.7 256.6,109.9 256.9,106.4 257.2,110.6 257.5,109.0 257.8,107.1 258.1,109.1 258.3,108.4 258.6,110.3 258.9,107.0 259.2,109.4 259.5,108.9 259.8,109.8 260.1,107.1 260.4,108.0 260.6,111.8 260.9,109.7 261.2,106.6 261.5,109.1 261.8,107.9 262.1,108.3 262.4,107.3 262.6,110.0 262.9,107.9 263.2,109.3 263.5,109.3" fill="none" stroke="#3535ff" stroke-width="0.45" stroke-opacity="1.0" stroke-linejoin="bevel"/>
<polyline points="39.9,79.5 40.2,84.9 40.5,91.6 40.8,95.3 41.0,99.1 41.3,102.4 41.6,103.8 41.9,106.2 42.2,108.0 42.5,107.0 42.8,113.9 43.0,116.2 43.3,117.5 43.6,114.8 43.9,111.9 44.2,119.1 44.5,124.5 44.8,123.8 45.1,114.5 45.3,114.2 45.6,123.0 45.9,127.0 46.2,124.3 46.5,117.7 46.8,114.7 47.1,119.1 47.3,124.8 47.6,119.5 47.9,115.7 48.2,110.6 48.5,116.5 48.8,119.9 49.1,117.2 49.3,112.9 49.6,108.4 49.9,114.3 50.2,116.5 50.5,117.3 50.8,109.4 51.1,111.0 51.4,109.9 51.6,116.2 51.9,115.0 52.2,107.6 52.5,107.2 52.8,107.2 53.1,111.9 53.4,113.6 53.6,108.8 53.9,106.7 54.2,104.0 54.5,109.1 54.8,109.6 55.1,107.9 55.4,102.5 55.6,105.2 55.9,107.3 56.2,104.3 56.5,102.9 56.8,103.2 57.1,100.9 57.4,102.7 57.7,106.6 57.9,103.8 58.2,101.2 58.5,102.0 58.8,102.7 59.1,102.9 59.4,101.8 59.7,101.9 59.9,103.6 60.2,101.7 60.5,103.0 60.8,102.0 61.1,99.2 61.4,101.7 61.7,103.9 61.9,101.7 62.2,103.8 62.5,100.4 62.8,103.2 63.1,104.4 63.4,102.4 63.7,99.2 63.9,100.8 64.2,98.9 64.5,100.1 64.8,102.7 65.1,104.8 65.4,101.3 65.7,100.9 66.0,99.2 66.2,102.2 66.5,100.5 66.8,102.5 67.1,100.5 67.4,102.3 67.7,103.3 68.0,102.7 68.2,103.5 68.5,102.3 68.8,101.9 69.1,103.7 69.4,104.1 69.7,104.4 70.0,101.9 70.2,104.9 70.5,102.5 70.8,103.0 71.1,99.9 71.4,103.1 71.7,100.9 72.0,101.9 72.3,105.0 72.5,101.6 72.8,100.7 73.1,104.2 73.4,103.4 73.7,105.3 74.0,102.1 74.3,103.3 74.5,104.5 74.8,103.9 75.1,106.9 75.4,102.3 75.7,101.9 76.0,102.9 76.3,105.5 76.5,103.6 76.8,102.5 77.1,102.8 77.4,104.9 77.7,103.3 78.0,102.2 78.3,103.2 78.6,103.6 78.8,102.1 79.1,104.3 79.4,101.4 79.7,103.6 80.0,102.9 80.3,104.0 80.6,104.6 80.8,105.8 81.1,102.2 81.4,104.0 81.7,100.4 82.0,103.2 82.3,106.5 82.6,105.4 82.8,100.1 83.1,104.2 83.4,103.6 83.7,103.6 84.0,104.6 84.3,103.5 84.6,105.6 84.8,102.0 85.1,104.3 85.4,104.2 85.7,100.5 86.0,105.3 86.3,107.3 86.6,104.2 86.9,105.3 87.1,103.2 87.4,104.0 87.7,103.4 88.0,106.6 88.3,103.0 88.6,106.0 88.9,104.2 89.1,108.4 89.4,102.8 89.7,104.9 90.0,102.0 90.3,103.6 90.6,105.4 90.9,104.1 91.1,103.1 91.4,101.6 91.7,104.3 92.0,106.8 92.3,107.6 92.6,105.7 92.9,103.1 93.2,103.6 93.4,102.6 93.7,103.5 94.0,107.5 94.3,104.5 94.6,104.9 94.9,104.7 95.2,108.2 95.4,108.4 95.7,104.0 96.0,104.1 96.3,104.2 96.6,108.3 96.9,108.3 97.2,105.0 97.4,108.4 97.7,105.4 98.0,104.6 98.3,103.5 98.6,105.5 98.9,105.6 99.2,104.7 99.5,107.2 99.7,108.7 100.0,105.9 100.3,106.6 100.6,108.2 100.9,107.4 101.2,106.1 101.5,106.8 101.7,106.2 102.0,108.9 102.3,106.0 102.6,104.7 102.9,106.8 103.2,106.0 103.5,105.1 103.7,107.5 104.0,107.6 104.3,108.3 104.6,104.3 104.9,104.7 105.2,106.7 105.5,106.5 105.7,108.5 106.0,106.6 106.3,105.7 106.6,109.0 106.9,108.0 107.2,108.2 107.5,107.0 107.8,105.6 108.0,106.5 108.3,107.4 108.6,105.2 108.9,105.4 109.2,107.1 109.5,107.2 109.8,106.0 110.0,110.5 110.3,104.5 110.6,106.8 110.9,107.8 111.2,109.3 111.5,105.9 111.8,106.2 112.0,105.7 112.3,108.4 112.6,108.1 112.9,107.9 113.2,107.1 113.5,108.8 113.8,107.7 114.1,108.9 114.3,106.0 114.6,107.5 114.9,104.3 115.2,108.2 115.5,107.9 115.8,106.3 116.1,105.0 116.3,106.1 116.6,107.0 116.9,106.9 117.2,107.2 117.5,106.3 117.8,105.5 118.1,106.6 118.3,108.1 118.6,109.6 118.9,107.8 119.2,105.6 119.5,109.2 119.8,109.5 120.1,107.6 120.4,108.5 120.6,105.7 120.9,105.9 121.2,106.8 121.5,110.3 121.8,107.4 122.1,107.0 122.4,107.1 122.6,107.3 122.9,108.8 123.2,108.3 123.5,109.4 123.8,105.8 124.1,110.0 124.4,109.2 124.6,105.2 124.9,108.2 125.2,109.3 125.5,109.5 125.8,108.7 126.1,107.9 126.4,104.2 126.6,107.5 126.9,108.2 127.2,107.1 127.5,108.1 127.8,106.1 128.1,110.2 128.4,106.3 128.7,107.2 128.9,105.0 129.2,106.6 129.5,107.3 129.8,108.0 130.1,107.6 130.4,109.2 130.7,107.5 130.9,108.7 131.2,107.8 131.5,106.2 131.8,107.9 132.1,105.9 132.4,108.3 132.7,107.1 132.9,108.2 133.2,108.2 133.5,105.3 133.8,106.6 134.1,109.1 134.4,107.8 134.7,108.1 135.0,107.7 135.2,106.3 135.5,107.5 135.8,109.2 136.1,107.9 136.4,107.6 136.7,107.1 137.0,106.5 137.2,106.9 137.5,111.2 137.8,109.5 138.1,107.1 138.4,109.2 138.7,110.2 139.0,109.9 139.2,107.3 139.5,105.4 139.8,106.2 140.1,108.4 140.4,110.5 140.7,110.0 141.0,107.1 141.3,107.5 141.5,110.4 141.8,111.6 142.1,106.8 142.4,108.1 142.7,108.1 143.0,108.3 143.3,108.5 143.5,107.7 143.8,107.6 144.1,105.9 144.4,108.8 144.7,110.0 145.0,109.3 145.3,108.7 145.5,108.4 145.8,109.0 146.1,111.7 146.4,108.1 146.7,107.9 147.0,109.6 147.3,108.8 147.5,107.4 147.8,107.8 148.1,107.2 148.4,107.8 148.7,108.2 149.0,110.5 149.3,109.6 149.6,108.5 149.8,107.5 150.1,110.2 150.4,110.6 150.7,111.7 151.0,107.2 151.3,107.9 151.6,110.7 151.8,107.8 152.1,109.2 152.4,108.4 152.7,108.1 153.0,107.5 153.3,109.4 153.6,106.9 153.8,109.8 154.1,107.4 154.4,109.0 154.7,109.4 155.0,109.3 155.3,108.4 155.6,108.7 155.9,108.3 156.1,109.4 156.4,107.6 156.7,106.9 157.0,107.0 157.3,107.4 157.6,107.6 157.9,108.4 158.1,109.3 158.4,108.7 158.7,108.2 159.0,109.9 159.3,109.8 159.6,112.1 159.9,106.1 160.1,109.1 160.4,107.7 160.7,111.1 161.0,108.4 161.3,108.9 161.6,109.1 161.9,110.5 162.1,105.6 162.4,107.2 162.7,108.5 163.0,107.0 163.3,110.3 163.6,111.2 163.9,107.1 164.2,107.8 164.4,109.7 164.7,112.0 165.0,111.0 165.3,110.0 165.6,107.3 165.9,108.9 166.2,109.7 166.4,108.9 166.7,109.6 167.0,108.1 167.3,108.3 167.6,112.4 167.9,109.6 168.2,111.7 168.4,108.1 168.7,108.8 169.0,107.9 169.3,109.1 169.6,111.4 169.9,108.7 170.2,106.2 170.5,111.5 170.7,108.7 171.0,108.8 171.3,108.7 171.6,106.3 171.9,111.6 172.2,111.7 172.5,109.0 172.7,109.3 173.0,108.5 173.3,108.8 173.6,109.7 173.9,107.6 174.2,108.3 174.5,108.1 174.7,112.1 175.0,108.1 175.3,111.3 175.6,109.9 175.9,109.1 176.2,108.8 176.5,112.5 176.8,111.7 177.0,109.0 177.3,108.7 177.6,109.8 177.9,112.6 178.2,108.6 178.5,109.3 178.8,110.5 179.0,107.7 179.3,110.0 179.6,111.4 179.9,108.7 180.2,108.9 180.5,107.5 180.8,110.7 181.0,108.4 181.3,108.8 181.6,109.5 181.9,108.8 182.2,111.3 182.5,111.0 182.8,110.0 183.0,110.4 183.3,109.3 183.6,107.2 183.9,111.2 184.2,110.5 184.5,108.4 184.8,108.4 185.1,111.7 185.3,109.5 185.6,109.0 185.9,108.5 186.2,112.6 186.5,109.1 186.8,106.7 187.1,109.4 187.3,107.7 187.6,107.0 187.9,110.2 188.2,109.4 188.5,110.7 188.8,108.6 189.1,110.9 189.3,111.3 189.6,110.1 189.9,110.6 190.2,111.5 190.5,110.2 190.8,108.0 191.1,110.2 191.4,109.9 191.6,110.7 191.9,109.1 192.2,111.4 192.5,110.0 192.8,109.7 193.1,108.8 193.4,109.2 193.6,109.7 193.9,110.6 194.2,108.7 194.5,107.7 194.8,109.1 195.1,110.0 195.4,109.6 195.6,110.3 195.9,109.6 196.2,111.4 196.5,107.8 196.8,112.8 197.1,106.6 197.4,106.8 197.7,109.5 197.9,108.4 198.2,109.7 198.5,109.2 198.8,107.4 199.1,107.3 199.4,109.1 199.7,110.5 199.9,110.6 200.2,109.4 200.5,108.6 200.8,111.2 201.1,107.1 201.4,109.9 201.7,110.9 201.9,111.2 202.2,111.2 202.5,111.9 202.8,111.3 203.1,109.5 203.4,106.1 203.7,108.9 203.9,109.7 204.2,112.1 204.5,108.8 204.8,108.7 205.1,110.5 205.4,108.8 205.7,110.1 206.0,110.2 206.2,108.7 206.5,109.5 206.8,107.7 207.1,108.4 207.4,109.2 207.7,110.7 208.0,108.8 208.2,108.8 208.5,109.0 208.8,110.4 209.1,107.3 209.4,109.7 209.7,109.6 210.0,110.2 210.2,108.6 210.5,109.4 210.8,111.3 211.1,109.7 211.4,109.5 211.7,106.2 212.0,109.9 212.3,108.6 212.5,110.6 212.8,110.3 213.1,108.7 213.4,108.4 213.7,107.7 214.0,112.7 214.3,111.5 214.5,110.9 214.8,111.0 215.1,111.4 215.4,111.2 215.7,111.7 216.0,113.2 216.3,107.1 216.5,109.8 216.8,109.2 217.1,110.4 217.4,106.6 217.7,108.1 218.0,110.6 218.3,108.4 218.6,111.1 218.8,108.9 219.1,109.3 219.4,107.5 219.7,109.2 220.0,108.4 220.3,110.9 220.6,107.3 220.8,110.0 221.1,109.3 221.4,110.2 221.7,112.1 222.0,109.4 222.3,108.8 222.6,110.1 222.8,111.4 223.1,109.6 223.4,112.1 223.7,109.9 224.0,109.6 224.3,109.6 224.6,110.2 224.8,110.6 225.1,111.1 225.4,110.2 225.7,109.8 226.0,110.4 226.3,107.1 226.6,111.2 226.9,111.2 227.1,110.3 227.4,111.4 227.7,108.7 228.0,112.2 228.3,110.0 228.6,110.1 228.9,113.5 229.1,109.0 229.4,110.6 229.7,109.3 230.0,110.1 230.3,110.5 230.6,109.7 230.9,112.1 231.1,111.9 231.4,110.1 231.7,114.2 232.0,110.5 232.3,110.0 232.6,111.0 232.9,109.5 233.2,112.8 233.4,109.3 233.7,108.5 234.0,111.8 234.3,109.6 234.6,110.6 234.9,108.9 235.2,109.6 235.4,110.5 235.7,107.5 236.0,110.8 236.3,109.4 236.6,112.0 236.9,113.0 237.2,111.4 237.4,111.7 237.7,111.9 238.0,111.6 238.3,108.3 238.6,108.9 238.9,110.2 239.2,108.6 239.5,109.6 239.7,110.3 240.0,109.5 240.3,111.4 240.6,112.4 240.9,110.2 241.2,110.7 241.5,110.5 241.7,110.7 242.0,109.8 242.3,108.6 242.6,110.8 242.9,111.9 243.2,110.7 243.5,110.7 243.7,108.3 244.0,109.8 244.3,110.9 244.6,110.6 244.9,110.6 245.2,108.8 245.5,108.4 245.7,110.1 246.0,112.7 246.3,110.1 246.6,108.2 246.9,109.2 247.2,110.1 247.5,112.4 247.8,112.1 248.0,109.1 248.3,108.7 248.6,110.0 248.9,110.7 249.2,109.3 249.5,111.5 249.8,109.5 250.0,110.7 250.3,110.5 250.6,111.4 250.9,110.1 251.2,110.4 251.5,112.0 251.8,111.0 252.0,112.6 252.3,108.6 252.6,109.8 252.9,108.9 253.2,108.8 253.5,110.7 253.8,112.9 254.1,110.4 254.3,111.6 254.6,108.1 254.9,111.0 255.2,108.8 255.5,110.4 255.8,111.6 256.1,110.0 256.3,112.2 256.6,109.3 256.9,110.2 257.2,109.4 257.5,110.7 257.8,110.5 258.1,107.5 258.3,109.6 258.6,109.5 258.9,112.8 259.2,107.4 259.5,110.5 259.8,111.2 260.1,112.7 260.4,112.3 260.6,110.6 260.9,112.4 261.2,110.0 261.5,109.9 261.8,110.1 262.1,110.2 262.4,112.5 262.6,108.0 262.9,108.1 263.2,111.8 263.5,111.3" fill="none" stroke="#ff8a10" stroke-width="0.45" stroke-opacity="1.0" stroke-linejoin="bevel"/>
<polyline points="312.1,7.5 312.4,20.8 312.7,33.5 313.0,44.3 313.2,55.9 313.5,66.7 313.8,72.2 314.1,76.3 314.4,80.2 314.7,86.0 315.0,89.2 315.2,93.5 315.5,96.8 315.8,100.3 316.1,104.1 316.4,108.4 316.7,115.0 317.0,118.7 317.3,118.5 317.5,119.7 317.8,123.9 318.1,136.1 318.4,131.2 318.7,125.7 319.0,126.9 319.3,126.5 319.5,136.0 319.8,135.8 320.1,129.4 320.4,123.1 320.7,131.7 321.0,139.8 321.3,139.2 321.5,126.9 321.8,127.9 322.1,134.6 322.4,139.8 322.7,137.4 323.0,130.1 323.3,121.6 323.6,131.4 323.8,140.4 324.1,138.8 324.4,124.9 324.7,125.0 325.0,128.9 325.3,133.9 325.6,136.9 325.8,126.2 326.1,124.1 326.4,128.6 326.7,133.4 327.0,132.2 327.3,130.0 327.6,126.0 327.8,124.1 328.1,131.0 328.4,128.0 328.7,123.2 329.0,124.5 329.3,127.4 329.6,127.9 329.9,128.4 330.1,124.6 330.4,117.3 330.7,123.3 331.0,124.0 331.3,119.3 331.6,121.3 331.9,119.0 332.1,122.7 332.4,122.4 332.7,123.2 333.0,121.8 333.3,117.3 333.6,116.0 333.9,120.8 334.1,120.5 334.4,120.1 334.7,118.5 335.0,117.7 335.3,120.4 335.6,120.2 335.9,118.1 336.2,114.7 336.4,113.2 336.7,116.1 337.0,119.0 337.3,120.4 337.6,116.9 337.9,118.7 338.2,120.3 338.4,123.1 338.7,118.8 339.0,119.9 339.3,117.3 339.6,115.2 339.9,113.9 340.2,118.3 340.4,118.5 340.7,121.1 341.0,116.1 341.3,119.0 341.6,117.7 341.9,112.7 342.2,117.3 342.4,116.7 342.7,115.8 343.0,121.1 343.3,116.0 343.6,117.6 343.9,116.9 344.2,116.9 344.5,117.9 344.7,118.8 345.0,115.6 345.3,114.4 345.6,121.7 345.9,119.3 346.2,116.0 346.5,117.1 346.7,115.0 347.0,118.7 347.3,120.5 347.6,114.7 347.9,119.3 348.2,119.7 348.5,118.7 348.7,119.6 349.0,118.1 349.3,117.3 349.6,115.2 349.9,122.5 350.2,118.6 350.5,119.4 350.8,118.1 351.0,119.7 351.3,120.8 351.6,118.2 351.9,120.1 352.2,118.3 352.5,117.4 352.8,122.3 353.0,122.5 353.3,118.1 353.6,118.5 353.9,117.4 354.2,118.1 354.5,118.8 354.8,121.1 355.0,116.8 355.3,116.8 355.6,120.9 355.9,119.6 356.2,122.6 356.5,117.9 356.8,118.8 357.1,119.1 357.3,116.9 357.6,121.3 357.9,121.1 358.2,121.6 358.5,120.4 358.8,122.5 359.1,120.7 359.3,120.0 359.6,118.6 359.9,120.6 360.2,119.9 360.5,122.3 360.8,119.2 361.1,118.4 361.3,120.9 361.6,121.7 361.9,118.5 362.2,118.8 362.5,119.5 362.8,121.9 363.1,122.9 363.3,123.2 363.6,120.5 363.9,119.3 364.2,118.9 364.5,122.4 364.8,121.3 365.1,122.0 365.4,122.7 365.6,125.0 365.9,120.8 366.2,123.3 366.5,118.7 366.8,123.0 367.1,119.6 367.4,122.3 367.6,120.7 367.9,124.5 368.2,122.3 368.5,123.5 368.8,122.5 369.1,123.5 369.4,120.2 369.6,120.8 369.9,124.4 370.2,119.8 370.5,123.2 370.8,124.5 371.1,123.7 371.4,123.4 371.7,123.2 371.9,125.7 372.2,122.2 372.5,122.0 372.8,119.6 373.1,123.9 373.4,123.1 373.7,123.0 373.9,118.5 374.2,120.6 374.5,123.3 374.8,121.8 375.1,124.3 375.4,126.1 375.7,122.8 375.9,124.4 376.2,123.3 376.5,122.7 376.8,120.4 377.1,123.8 377.4,121.6 377.7,123.4 378.0,122.7 378.2,121.0 378.5,121.9 378.8,123.7 379.1,126.1 379.4,123.9 379.7,125.3 380.0,123.8 380.2,124.2 380.5,125.3 380.8,123.7 381.1,124.9 381.4,123.6 381.7,124.4 382.0,127.7 382.2,123.1 382.5,122.1 382.8,123.5 383.1,124.8 383.4,124.5 383.7,126.2 384.0,124.5 384.3,124.4 384.5,122.5 384.8,127.9 385.1,125.2 385.4,122.9 385.7,126.2 386.0,124.6 386.3,124.2 386.5,123.4 386.8,124.4 387.1,123.1 387.4,123.2 387.7,125.3 388.0,125.0 388.3,123.7 388.5,125.7 388.8,127.1 389.1,127.8 389.4,124.9 389.7,123.9 390.0,121.9 390.3,124.4 390.5,124.1 390.8,125.9 391.1,124.5 391.4,125.4 391.7,124.8 392.0,126.4 392.3,126.7 392.6,121.3 392.8,123.0 393.1,125.3 393.4,125.7 393.7,126.2 394.0,124.4 394.3,125.8 394.6,124.3 394.8,125.4 395.1,125.0 395.4,126.4 395.7,126.0 396.0,125.0 396.3,126.4 396.6,122.9 396.8,127.0 397.1,121.9 397.4,124.2 397.7,122.2 398.0,125.3 398.3,124.7 398.6,128.0 398.9,123.4 399.1,121.9 399.4,126.4 399.7,125.3 400.0,126.8 400.3,126.4 400.6,123.3 400.9,125.8 401.1,125.4 401.4,125.4 401.7,124.8 402.0,125.8 402.3,126.8 402.6,123.3 402.9,123.9 403.1,127.4 403.4,127.9 403.7,126.9 404.0,127.1 404.3,127.1 404.6,127.7 404.9,126.1 405.2,125.8 405.4,128.3 405.7,125.3 406.0,124.3 406.3,127.2 406.6,126.6 406.9,126.5 407.2,125.8 407.4,126.9 407.7,126.5 408.0,127.1 408.3,124.6 408.6,123.9 408.9,124.1 409.2,125.4 409.4,128.7 409.7,126.0 410.0,125.5 410.3,128.9 410.6,127.0 410.9,126.5 411.2,128.1 411.5,126.6 411.7,128.4 412.0,127.6 412.3,126.0 412.6,129.1 412.9,124.9 413.2,129.3 413.5,127.6 413.7,124.5 414.0,130.9 414.3,125.9 414.6,123.1 414.9,129.9 415.2,126.3 415.5,127.5 415.7,126.7 416.0,126.8 416.3,127.9 416.6,125.0 416.9,131.8 417.2,128.3 417.5,126.8 417.7,128.0 418.0,127.9 418.3,129.2 418.6,128.4 418.9,128.1 419.2,127.8 419.5,127.5 419.8,128.3 420.0,126.8 420.3,127.6 420.6,124.9 420.9,125.4 421.2,129.3 421.5,125.1 421.8,127.4 422.0,128.0 422.3,124.1 422.6,128.2 422.9,129.9 423.2,125.9 423.5,129.3 423.8,125.8 424.0,124.5 424.3,126.0 424.6,125.5 424.9,128.1 425.2,127.0 425.5,126.8 425.8,126.4 426.1,128.9 426.3,123.9 426.6,125.3 426.9,127.0 427.2,127.5 427.5,128.1 427.8,128.6 428.1,126.4 428.3,128.8 428.6,126.2 428.9,131.2 429.2,127.0 429.5,125.4 429.8,129.8 430.1,128.2 430.3,129.2 430.6,128.5 430.9,125.0 431.2,129.3 431.5,127.5 431.8,126.7 432.1,127.2 432.4,127.5 432.6,128.6 432.9,129.8 433.2,127.7 433.5,127.8 433.8,130.1 434.1,128.1 434.4,129.0 434.6,128.0 434.9,129.3 435.2,126.5 435.5,128.9 435.8,130.1 436.1,128.4 436.4,128.5 436.6,127.8 436.9,129.4 437.2,128.5 437.5,129.4 437.8,127.6 438.1,127.3 438.4,128.7 438.6,128.1 438.9,132.2 439.2,128.7 439.5,128.3 439.8,128.3 440.1,130.1 440.4,127.6 440.7,127.2 440.9,127.1 441.2,128.1 441.5,128.3 441.8,126.8 442.1,128.3 442.4,126.3 442.7,129.3 442.9,130.5 443.2,127.4 443.5,127.0 443.8,129.5 444.1,127.7 444.4,129.0 444.7,128.3 444.9,127.6 445.2,126.8 445.5,129.5 445.8,129.0 446.1,127.9 446.4,127.5 446.7,126.3 447.0,129.4 447.2,129.6 447.5,130.9 447.8,126.9 448.1,130.7 448.4,128.7 448.7,130.9 449.0,126.2 449.2,128.4 449.5,128.9 449.8,126.2 450.1,129.7 450.4,130.2 450.7,126.8 451.0,129.5 451.2,129.2 451.5,130.5 451.8,128.3 452.1,126.5 452.4,127.2 452.7,128.8 453.0,125.8 453.3,129.4 453.5,128.2 453.8,127.8 454.1,124.2 454.4,127.4 454.7,128.4 455.0,127.5 455.3,128.5 455.5,127.1 455.8,127.8 456.1,130.2 456.4,129.3 456.7,127.6 457.0,127.5 457.3,126.3 457.5,129.6 457.8,127.7 458.1,130.6 458.4,127.4 458.7,129.0 459.0,128.0 459.3,129.0 459.6,132.2 459.8,128.0 460.1,127.7 460.4,129.7 460.7,129.1 461.0,125.7 461.3,130.0 461.6,127.5 461.8,130.6 462.1,128.9 462.4,127.5 462.7,129.0 463.0,128.1 463.3,127.2 463.6,127.9 463.8,128.2 464.1,126.7 464.4,129.1 464.7,127.6 465.0,129.7 465.3,128.3 465.6,128.0 465.8,125.4 466.1,129.7 466.4,125.7 466.7,127.4 467.0,126.3 467.3,131.2 467.6,129.1 467.9,129.2 468.1,129.3 468.4,127.8 468.7,130.0 469.0,127.3 469.3,130.4 469.6,129.4 469.9,128.6 470.1,126.1 470.4,126.6 470.7,127.3 471.0,127.8 471.3,129.4 471.6,128.6 471.9,129.0 472.1,129.0 472.4,127.6 472.7,127.4 473.0,128.5 473.3,130.7 473.6,129.4 473.9,129.2 474.2,130.6 474.4,126.6 474.7,128.0 475.0,130.1 475.3,129.3 475.6,127.8 475.9,126.7 476.2,129.5 476.4,129.5 476.7,130.3 477.0,127.6 477.3,129.3 477.6,127.4 477.9,126.7 478.2,131.8 478.4,128.1 478.7,130.5 479.0,130.5 479.3,129.7 479.6,130.9 479.9,131.6 480.2,128.6 480.5,129.8 480.7,127.8 481.0,129.5 481.3,129.6 481.6,128.4 481.9,129.1 482.2,128.8 482.5,128.9 482.7,130.5 483.0,128.9 483.3,129.4 483.6,128.4 483.9,130.0 484.2,129.4 484.5,128.6 484.7,132.0 485.0,127.7 485.3,131.1 485.6,129.7 485.9,127.4 486.2,130.5 486.5,132.2 486.8,131.1 487.0,129.8 487.3,131.1 487.6,128.0 487.9,130.2 488.2,127.7 488.5,128.7 488.8,129.2 489.0,129.7 489.3,130.1 489.6,129.1 489.9,129.3 490.2,129.9 490.5,131.7 490.8,130.1 491.0,131.9 491.3,128.0 491.6,130.3 491.9,130.5 492.2,130.4 492.5,132.9 492.8,129.1 493.0,129.9 493.3,128.3 493.6,128.9 493.9,129.3 494.2,131.6 494.5,129.8 494.8,128.8 495.1,130.7 495.3,132.4 495.6,128.7 495.9,129.7 496.2,129.0 496.5,129.7 496.8,131.3 497.1,128.1 497.3,129.6 497.6,130.1 497.9,129.6 498.2,128.8 498.5,130.3 498.8,128.2 499.1,128.0 499.3,132.3 499.6,130.0 499.9,127.3 500.2,128.3 500.5,128.9 500.8,129.9 501.1,129.3 501.4,130.7 501.6,130.1 501.9,132.4 502.2,126.7 502.5,129.4 502.8,129.2 503.1,125.6 503.4,128.5 503.6,132.6 503.9,129.2 504.2,130.2 504.5,129.5 504.8,126.6 505.1,128.6 505.4,131.1 505.6,131.4 505.9,131.9 506.2,128.3 506.5,130.7 506.8,128.8 507.1,129.2 507.4,126.3 507.7,130.0 507.9,132.7 508.2,130.7 508.5,130.1 508.8,130.2 509.1,130.4 509.4,128.0 509.7,131.5 509.9,129.1 510.2,132.4 510.5,130.9 510.8,130.2 511.1,130.4 511.4,126.1 511.7,129.6 511.9,129.7 512.2,130.0 512.5,129.1 512.8,130.9 513.1,130.2 513.4,129.0 513.7,130.1 513.9,127.8 514.2,131.4 514.5,129.1 514.8,126.7 515.1,130.4 515.4,130.5 515.7,132.3 516.0,129.6 516.2,127.6 516.5,128.1 516.8,132.1 517.1,130.0 517.4,128.5 517.7,130.5 518.0,132.5 518.2,131.7 518.5,130.0 518.8,130.9 519.1,128.3 519.4,128.8 519.7,130.5 520.0,128.8 520.2,132.9 520.5,131.3 520.8,126.8 521.1,129.8 521.4,128.2 521.7,130.9 522.0,129.1 522.3,131.1 522.5,132.0 522.8,129.8 523.1,130.0 523.4,131.5 523.7,131.1 524.0,132.6 524.3,131.4 524.5,128.6 524.8,132.1 525.1,128.3 525.4,129.0 525.7,127.4 526.0,128.2 526.3,131.1 526.5,129.6 526.8,131.2 527.1,128.5 527.4,130.5 527.7,131.6 528.0,131.8 528.3,130.3 528.6,131.9 528.8,133.3 529.1,129.2 529.4,131.1 529.7,131.0 530.0,130.5 530.3,129.3 530.6,129.3 530.8,130.4 531.1,131.8 531.4,130.5 531.7,130.8 532.0,130.5 532.3,131.0 532.6,127.4 532.8,129.6 533.1,129.7 533.4,129.7 533.7,131.1 534.0,131.8 534.3,131.8 534.6,131.1 534.9,129.3 535.1,128.5 535.4,129.4 535.7,133.0 536.0,130.0 536.3,129.6 536.6,132.3 536.9,130.9 537.1,129.4 537.4,130.4 537.7,128.6 538.0,127.5" fill="none" stroke="#ff2020" stroke-width="0.45" stroke-opacity="1.0" stroke-linejoin="bevel"/>
<polyline points="312.4,8.7 312.7,21.4 313.0,33.8 313.3,43.6 313.5,57.0 313.8,66.4 314.1,74.8 314.4,78.7 314.7,83.0 315.0,87.2 315.3,90.7 315.5,93.8 315.8,98.2 316.1,104.7 316.4,106.1 316.7,110.8 317.0,116.5 317.3,120.8 317.6,119.4 317.8,117.9 318.1,123.9 318.4,131.7 318.7,129.6 319.0,123.1 319.3,117.4 319.6,126.5 319.8,136.4 320.1,130.9 320.4,124.3 320.7,126.3 321.0,124.6 321.3,130.6 321.6,131.9 321.8,128.5 322.1,124.8 322.4,122.9 322.7,133.8 323.0,132.2 323.3,123.0 323.6,114.9 323.9,125.3 324.1,127.7 324.4,129.8 324.7,122.3 325.0,121.6 325.3,122.8 325.6,122.8 325.9,124.7 326.1,122.3 326.4,113.0 326.7,116.8 327.0,121.8 327.3,117.7 327.6,114.8 327.9,110.8 328.1,115.9 328.4,116.4 328.7,120.0 329.0,115.5 329.3,114.0 329.6,112.8 329.9,116.6 330.2,115.0 330.4,110.8 330.7,113.3 331.0,112.9 331.3,117.5 331.6,112.6 331.9,110.0 332.2,106.2 332.4,100.8 332.7,107.8 333.0,112.2 333.3,107.9 333.6,102.6 333.9,109.5 334.2,107.8 334.4,108.6 334.7,107.5 335.0,107.0 335.3,108.2 335.6,104.1 335.9,108.0 336.2,106.8 336.4,109.5 336.7,104.5 337.0,111.2 337.3,109.5 337.6,111.2 337.9,105.1 338.2,108.2 338.5,107.9 338.7,104.5 339.0,106.8 339.3,105.4 339.6,103.9 339.9,105.0 340.2,104.3 340.5,106.2 340.7,107.1 341.0,104.4 341.3,103.4 341.6,110.0 341.9,106.7 342.2,106.7 342.5,105.8 342.7,105.8 343.0,109.1 343.3,106.6 343.6,106.9 343.9,103.3 344.2,103.5 344.5,107.1 344.8,112.2 345.0,107.5 345.3,111.0 345.6,108.3 345.9,109.3 346.2,107.1 346.5,107.6 346.8,111.1 347.0,110.3 347.3,107.3 347.6,107.8 347.9,111.0 348.2,106.5 348.5,110.1 348.8,107.1 349.0,110.7 349.3,111.9 349.6,109.9 349.9,109.0 350.2,109.7 350.5,109.5 350.8,109.0 351.0,110.9 351.3,111.2 351.6,110.5 351.9,107.3 352.2,108.2 352.5,109.3 352.8,109.1 353.1,107.0 353.3,111.7 353.6,115.4 353.9,106.3 354.2,109.3 354.5,113.6 354.8,109.7 355.1,109.2 355.3,109.7 355.6,110.7 355.9,109.5 356.2,113.0 356.5,106.3 356.8,111.1 357.1,110.5 357.3,110.2 357.6,112.0 357.9,110.9 358.2,112.8 358.5,109.0 358.8,110.7 359.1,108.5 359.4,108.7 359.6,109.8 359.9,106.9 360.2,109.2 360.5,108.9 360.8,110.3 361.1,110.8 361.4,112.4 361.6,107.1 361.9,111.5 362.2,113.5 362.5,113.8 362.8,113.6 363.1,108.3 363.4,111.0 363.6,113.1 363.9,113.1 364.2,111.4 364.5,112.1 364.8,112.8 365.1,110.6 365.4,111.7 365.7,112.7 365.9,111.0 366.2,114.9 366.5,106.5 366.8,111.0 367.1,114.8 367.4,113.6 367.7,115.7 367.9,113.0 368.2,109.5 368.5,110.4 368.8,115.1 369.1,109.0 369.4,111.0 369.7,108.7 369.9,110.6 370.2,111.3 370.5,114.2 370.8,111.5 371.1,116.0 371.4,113.3 371.7,111.4 371.9,111.2 372.2,110.4 372.5,113.0 372.8,116.2 373.1,112.2 373.4,111.3 373.7,113.5 374.0,112.0 374.2,110.6 374.5,108.8 374.8,113.4 375.1,116.9 375.4,115.8 375.7,114.6 376.0,113.3 376.2,114.7 376.5,116.1 376.8,113.5 377.1,113.5 377.4,112.2 377.7,116.1 378.0,112.5 378.2,115.2 378.5,114.9 378.8,114.9 379.1,115.5 379.4,113.6 379.7,113.0 380.0,112.6 380.3,112.7 380.5,112.0 380.8,113.9 381.1,113.2 381.4,111.8 381.7,114.3 382.0,112.9 382.3,115.5 382.5,117.6 382.8,117.2 383.1,113.9 383.4,116.5 383.7,115.7 384.0,119.6 384.3,117.4 384.5,116.2 384.8,114.4 385.1,114.9 385.4,116.2 385.7,114.4 386.0,113.7 386.3,116.1 386.6,113.1 386.8,111.5 387.1,112.6 387.4,112.0 387.7,114.7 388.0,113.9 388.3,115.1 388.6,110.8 388.8,117.2 389.1,115.6 389.4,114.0 389.7,116.2 390.0,117.2 390.3,116.1 390.6,114.8 390.8,116.9 391.1,117.4 391.4,112.8 391.7,111.9 392.0,113.9 392.3,117.6 392.6,118.7 392.8,115.5 393.1,117.5 393.4,117.0 393.7,115.7 394.0,114.6 394.3,114.2 394.6,115.0 394.9,117.8 395.1,117.5 395.4,113.7 395.7,113.2 396.0,116.5 396.3,115.6 396.6,114.2 396.9,117.5 397.1,118.2 397.4,116.6 397.7,115.5 398.0,118.5 398.3,115.7 398.6,114.8 398.9,113.5 399.1,118.8 399.4,120.0 399.7,116.4 400.0,117.1 400.3,116.2 400.6,117.2 400.9,118.4 401.2,117.9 401.4,116.0 401.7,114.6 402.0,113.7 402.3,111.5 402.6,116.6 402.9,114.9 403.2,115.7 403.4,115.4 403.7,114.5 404.0,115.9 404.3,117.3 404.6,116.1 404.9,114.1 405.2,115.0 405.4,118.0 405.7,117.1 406.0,116.5 406.3,115.5 406.6,117.8 406.9,117.2 407.2,121.4 407.4,115.3 407.7,114.6 408.0,119.5 408.3,117.0 408.6,115.6 408.9,117.1 409.2,111.8 409.5,117.4 409.7,117.2 410.0,117.6 410.3,115.0 410.6,118.5 410.9,117.2 411.2,117.3 411.5,117.9 411.7,115.1 412.0,116.0 412.3,114.0 412.6,115.4 412.9,117.9 413.2,116.9 413.5,117.7 413.7,115.5 414.0,117.2 414.3,116.3 414.6,117.3 414.9,117.8 415.2,118.7 415.5,118.5 415.8,116.2 416.0,117.4 416.3,114.7 416.6,113.4 416.9,117.9 417.2,117.9 417.5,118.5 417.8,118.1 418.0,114.7 418.3,116.0 418.6,117.9 418.9,117.5 419.2,117.5 419.5,114.6 419.8,117.2 420.0,119.1 420.3,120.9 420.6,114.6 420.9,120.0 421.2,117.2 421.5,115.5 421.8,120.0 422.1,115.1 422.3,115.0 422.6,119.1 422.9,120.1 423.2,117.9 423.5,115.9 423.8,114.5 424.1,118.1 424.3,114.1 424.6,115.3 424.9,119.2 425.2,118.4 425.5,120.1 425.8,119.1 426.1,116.0 426.3,118.3 426.6,114.1 426.9,119.2 427.2,120.9 427.5,116.4 427.8,119.4 428.1,117.5 428.3,117.8 428.6,115.0 428.9,118.1 429.2,119.3 429.5,114.5 429.8,117.2 430.1,117.4 430.4,115.5 430.6,119.7 430.9,117.6 431.2,118.2 431.5,120.5 431.8,117.2 432.1,123.8 432.4,116.8 432.6,116.0 432.9,119.9 433.2,119.3 433.5,116.3 433.8,116.1 434.1,119.6 434.4,119.3 434.6,119.5 434.9,119.7 435.2,116.7 435.5,120.5 435.8,118.9 436.1,120.1 436.4,116.6 436.7,119.2 436.9,118.7 437.2,123.3 437.5,118.7 437.8,121.1 438.1,119.1 438.4,121.1 438.7,119.3 438.9,119.9 439.2,114.5 439.5,115.7 439.8,120.2 440.1,119.7 440.4,120.5 440.7,118.1 440.9,119.5 441.2,117.6 441.5,118.8 441.8,121.3 442.1,120.6 442.4,117.4 442.7,118.4 443.0,119.4 443.2,119.0 443.5,118.6 443.8,116.5 444.1,119.3 444.4,117.1 444.7,117.5 445.0,121.1 445.2,121.6 445.5,121.7 445.8,119.6 446.1,118.3 446.4,120.3 446.7,121.2 447.0,118.6 447.2,118.2 447.5,116.4 447.8,116.0 448.1,121.5 448.4,115.8 448.7,117.8 449.0,118.8 449.2,119.5 449.5,116.2 449.8,119.4 450.1,120.0 450.4,119.5 450.7,118.1 451.0,117.9 451.3,115.0 451.5,120.1 451.8,118.5 452.1,116.8 452.4,118.6 452.7,119.4 453.0,119.6 453.3,120.6 453.5,121.4 453.8,117.8 454.1,118.8 454.4,119.4 454.7,116.9 455.0,121.3 455.3,118.2 455.5,119.0 455.8,119.5 456.1,118.0 456.4,120.9 456.7,120.6 457.0,118.9 457.3,113.7 457.6,121.9 457.8,119.2 458.1,117.8 458.4,117.6 458.7,117.0 459.0,118.9 459.3,120.7 459.6,117.1 459.8,119.1 460.1,117.9 460.4,119.1 460.7,119.0 461.0,119.7 461.3,120.5 461.6,119.0 461.8,121.2 462.1,122.4 462.4,116.6 462.7,120.2 463.0,118.5 463.3,119.2 463.6,121.5 463.8,118.9 464.1,117.7 464.4,121.3 464.7,121.5 465.0,120.6 465.3,124.5 465.6,117.2 465.9,116.2 466.1,119.3 466.4,117.9 466.7,120.2 467.0,118.0 467.3,118.0 467.6,119.7 467.9,118.4 468.1,116.2 468.4,117.8 468.7,120.4 469.0,120.1 469.3,121.7 469.6,122.7 469.9,120.8 470.1,119.1 470.4,118.3 470.7,120.9 471.0,122.7 471.3,121.8 471.6,120.9 471.9,118.3 472.2,121.1 472.4,121.1 472.7,121.5 473.0,117.0 473.3,118.5 473.6,120.4 473.9,120.2 474.2,118.3 474.4,120.2 474.7,119.2 475.0,122.2 475.3,119.2 475.6,119.9 475.9,115.6 476.2,120.1 476.4,119.0 476.7,121.4 477.0,119.3 477.3,121.6 477.6,118.8 477.9,117.6 478.2,120.6 478.5,120.7 478.7,118.1 479.0,117.4 479.3,121.6 479.6,122.1 479.9,121.1 480.2,119.6 480.5,119.8 480.7,123.2 481.0,121.7 481.3,118.2 481.6,117.6 481.9,120.9 482.2,121.6 482.5,119.2 482.7,118.5 483.0,121.2 483.3,119.2 483.6,121.8 483.9,118.4 484.2,118.2 484.5,116.5 484.7,119.7 485.0,119.5 485.3,117.4 485.6,120.3 485.9,118.6 486.2,119.3 486.5,122.7 486.8,122.2 487.0,120.9 487.3,119.0 487.6,117.6 487.9,119.0 488.2,119.8 488.5,122.3 488.8,118.0 489.0,118.7 489.3,120.2 489.6,121.2 489.9,122.1 490.2,122.1 490.5,119.5 490.8,123.7 491.0,121.7 491.3,118.8 491.6,118.0 491.9,119.0 492.2,119.7 492.5,121.9 492.8,118.8 493.1,118.7 493.3,118.2 493.6,120.6 493.9,117.9 494.2,121.3 494.5,118.4 494.8,119.3 495.1,120.9 495.3,121.0 495.6,125.3 495.9,118.2 496.2,116.0 496.5,117.8 496.8,122.0 497.1,118.4 497.3,121.7 497.6,119.4 497.9,121.5 498.2,117.8 498.5,122.3 498.8,122.0 499.1,118.1 499.4,122.5 499.6,125.3 499.9,120.5 500.2,118.3 500.5,118.7 500.8,119.6 501.1,122.3 501.4,123.8 501.6,119.3 501.9,119.4 502.2,117.6 502.5,119.6 502.8,121.4 503.1,116.5 503.4,121.1 503.6,121.7 503.9,122.7 504.2,119.5 504.5,117.3 504.8,119.4 505.1,118.2 505.4,117.4 505.6,119.2 505.9,117.7 506.2,123.3 506.5,121.4 506.8,122.1 507.1,118.6 507.4,122.7 507.7,119.2 507.9,121.6 508.2,118.7 508.5,121.8 508.8,117.3 509.1,119.6 509.4,119.6 509.7,118.0 509.9,120.7 510.2,119.3 510.5,119.3 510.8,121.4 511.1,122.8 511.4,120.3 511.7,122.7 511.9,121.8 512.2,121.4 512.5,123.3 512.8,118.0 513.1,122.8 513.4,120.7 513.7,119.4 514.0,120.2 514.2,122.6 514.5,122.7 514.8,121.4 515.1,118.0 515.4,117.8 515.7,120.8 516.0,121.7 516.2,118.9 516.5,121.7 516.8,121.6 517.1,121.6 517.4,119.2 517.7,122.4 518.0,121.9 518.2,122.9 518.5,121.5 518.8,118.4 519.1,120.9 519.4,121.7 519.7,120.2 520.0,118.8 520.2,121.7 520.5,121.5 520.8,117.9 521.1,119.2 521.4,118.2 521.7,121.3 522.0,120.7 522.3,123.3 522.5,118.8 522.8,123.2 523.1,120.4 523.4,120.9 523.7,118.0 524.0,120.5 524.3,119.8 524.5,120.6 524.8,120.7 525.1,121.1 525.4,121.9 525.7,120.8 526.0,119.2 526.3,122.3 526.5,120.4 526.8,119.3 527.1,123.3 527.4,121.4 527.7,121.8 528.0,117.2 528.3,119.3 528.6,124.4 528.8,121.8 529.1,121.4 529.4,119.0 529.7,120.2 530.0,121.5 530.3,120.8 530.6,120.4 530.8,117.2 531.1,119.0 531.4,120.0 531.7,121.9 532.0,121.6 532.3,120.3 532.6,119.1 532.8,119.5 533.1,121.4 533.4,118.2 533.7,119.9 534.0,119.8 534.3,120.3 534.6,123.9 534.9,120.4 535.1,121.9 535.4,123.3 535.7,121.7 536.0,121.0 536.3,118.5 536.6,123.3 536.9,118.4 537.1,117.1 537.4,122.9 537.7,118.1 538.0,118.3" fill="none" stroke="#8a7a9a" stroke-width="0.45" stroke-opacity="1.0" stroke-linejoin="bevel"/>
<polyline points="311.8,8.5 312.1,21.9 312.4,32.7 312.7,46.2 312.9,56.6 313.2,67.5 313.5,73.3 313.8,77.1 314.1,81.9 314.4,86.9 314.7,90.8 314.9,95.0 315.2,96.7 315.5,100.5 315.8,107.5 316.1,110.2 316.4,115.2 316.7,117.9 317.0,116.6 317.2,121.0 317.5,126.7 317.8,133.5 318.1,131.6 318.4,125.4 318.7,123.1 319.0,132.3 319.2,139.0 319.5,140.1 319.8,128.4 320.1,127.2 320.4,133.5 320.7,139.0 321.0,137.9 321.2,133.7 321.5,128.7 321.8,132.6 322.1,140.9 322.4,138.6 322.7,132.7 323.0,126.5 323.3,132.2 323.5,140.8 323.8,138.3 324.1,133.2 324.4,124.9 324.7,129.7 325.0,133.8 325.3,136.4 325.5,130.9 325.8,126.2 326.1,128.2 326.4,135.7 326.7,136.2 327.0,127.1 327.3,128.3 327.5,124.1 327.8,128.8 328.1,130.1 328.4,127.9 328.7,123.1 329.0,124.1 329.3,127.8 329.6,126.7 329.8,124.5 330.1,124.5 330.4,125.1 330.7,125.0 331.0,125.6 331.3,123.8 331.6,121.0 331.8,121.0 332.1,121.5 332.4,125.2 332.7,122.5 333.0,120.7 333.3,121.2 333.6,122.9 333.8,125.0 334.1,120.9 334.4,119.3 334.7,120.2 335.0,119.0 335.3,123.3 335.6,122.1 335.9,120.6 336.1,118.9 336.4,121.2 336.7,122.3 337.0,120.8 337.3,118.3 337.6,115.4 337.9,121.0 338.1,119.2 338.4,117.8 338.7,120.0 339.0,118.6 339.3,116.0 339.6,119.0 339.9,118.3 340.1,119.7 340.4,114.1 340.7,117.6 341.0,118.8 341.3,121.5 341.6,116.0 341.9,112.3 342.2,115.8 342.4,119.6 342.7,120.5 343.0,121.3 343.3,118.5 343.6,116.9 343.9,120.8 344.2,119.1 344.4,117.9 344.7,117.8 345.0,120.7 345.3,117.7 345.6,117.5 345.9,118.5 346.2,118.1 346.4,117.3 346.7,118.1 347.0,120.6 347.3,121.6 347.6,119.9 347.9,120.4 348.2,122.4 348.5,116.7 348.7,116.9 349.0,117.8 349.3,117.3 349.6,118.7 349.9,120.9 350.2,117.8 350.5,118.6 350.7,116.1 351.0,119.0 351.3,123.5 351.6,119.4 351.9,120.3 352.2,121.3 352.5,120.0 352.7,122.4 353.0,121.1 353.3,121.2 353.6,119.0 353.9,118.5 354.2,119.7 354.5,120.0 354.7,121.2 355.0,120.0 355.3,120.6 355.6,121.5 355.9,123.3 356.2,119.5 356.5,123.3 356.8,119.3 357.0,121.0 357.3,123.1 357.6,121.7 357.9,119.3 358.2,121.5 358.5,121.0 358.8,123.4 359.0,122.1 359.3,119.8 359.6,122.6 359.9,121.9 360.2,122.1 360.5,121.5 360.8,120.2 361.0,122.8 361.3,123.5 361.6,123.2 361.9,123.6 362.2,121.0 362.5,119.6 362.8,122.1 363.1,123.1 363.3,122.0 363.6,122.7 363.9,123.8 364.2,122.9 364.5,122.8 364.8,120.5 365.1,123.7 365.3,122.1 365.6,121.5 365.9,121.3 366.2,121.8 366.5,124.8 366.8,124.1 367.1,120.6 367.3,123.3 367.6,123.2 367.9,123.4 368.2,123.5 368.5,122.6 368.8,124.5 369.1,122.1 369.4,118.7 369.6,121.8 369.9,122.7 370.2,125.7 370.5,125.2 370.8,121.0 371.1,123.5 371.4,124.3 371.6,121.9 371.9,120.1 372.2,122.9 372.5,123.7 372.8,123.3 373.1,120.0 373.4,123.9 373.6,122.3 373.9,122.1 374.2,123.9 374.5,122.9 374.8,125.1 375.1,123.6 375.4,122.9 375.7,125.1 375.9,125.0 376.2,122.0 376.5,123.6 376.8,123.2 377.1,121.9 377.4,124.2 377.7,125.5 377.9,123.0 378.2,126.5 378.5,127.8 378.8,125.0 379.1,126.0 379.4,127.6 379.7,123.8 379.9,123.7 380.2,125.0 380.5,123.1 380.8,122.4 381.1,124.9 381.4,124.7 381.7,126.3 382.0,126.4 382.2,123.6 382.5,124.5 382.8,125.1 383.1,125.1 383.4,124.5 383.7,125.7 384.0,124.8 384.2,126.2 384.5,128.0 384.8,127.8 385.1,123.6 385.4,123.8 385.7,125.4 386.0,126.7 386.2,127.8 386.5,124.0 386.8,124.6 387.1,126.3 387.4,128.5 387.7,128.6 388.0,124.1 388.2,125.0 388.5,124.6 388.8,128.0 389.1,127.3 389.4,125.3 389.7,124.5 390.0,126.4 390.3,128.2 390.5,125.5 390.8,125.5 391.1,125.7 391.4,126.0 391.7,127.3 392.0,125.3 392.3,125.2 392.5,122.4 392.8,126.1 393.1,128.5 393.4,123.7 393.7,125.3 394.0,127.1 394.3,125.9 394.5,123.9 394.8,128.9 395.1,124.2 395.4,128.0 395.7,125.2 396.0,125.8 396.3,127.2 396.6,126.5 396.8,126.9 397.1,127.0 397.4,126.8 397.7,129.3 398.0,127.8 398.3,126.5 398.6,126.5 398.8,126.9 399.1,127.3 399.4,127.9 399.7,126.9 400.0,126.4 400.3,128.6 400.6,127.1 400.8,127.7 401.1,127.6 401.4,124.7 401.7,126.7 402.0,130.1 402.3,125.7 402.6,128.2 402.9,124.9 403.1,127.8 403.4,126.1 403.7,126.4 404.0,126.0 404.3,125.7 404.6,128.7 404.9,129.0 405.1,128.7 405.4,127.0 405.7,129.1 406.0,128.8 406.3,128.3 406.6,126.0 406.9,127.9 407.1,127.7 407.4,127.4 407.7,129.0 408.0,128.9 408.3,126.6 408.6,127.6 408.9,127.9 409.2,128.5 409.4,127.3 409.7,126.4 410.0,127.0 410.3,129.5 410.6,131.5 410.9,127.4 411.2,125.7 411.4,126.4 411.7,126.2 412.0,127.5 412.3,128.7 412.6,126.1 412.9,128.0 413.2,128.7 413.4,130.5 413.7,130.9 414.0,129.1 414.3,130.5 414.6,126.8 414.9,128.7 415.2,128.6 415.5,128.4 415.7,128.8 416.0,127.1 416.3,130.9 416.6,130.4 416.9,128.4 417.2,128.1 417.5,126.2 417.7,124.7 418.0,128.4 418.3,128.5 418.6,127.8 418.9,126.1 419.2,127.8 419.5,131.3 419.7,129.2 420.0,128.5 420.3,127.3 420.6,129.6 420.9,130.7 421.2,129.4 421.5,127.1 421.8,128.3 422.0,127.2 422.3,128.4 422.6,129.3 422.9,127.0 423.2,127.6 423.5,130.7 423.8,128.7 424.0,129.7 424.3,127.5 424.6,126.3 424.9,128.7 425.2,128.5 425.5,125.7 425.8,126.3 426.0,127.4 426.3,130.9 426.6,128.3 426.9,128.8 427.2,129.2 427.5,128.6 427.8,128.2 428.0,131.8 428.3,131.0 428.6,124.7 428.9,129.7 429.2,129.6 429.5,130.8 429.8,129.3 430.1,129.7 430.3,131.2 430.6,131.4 430.9,132.0 431.2,130.8 431.5,129.9 431.8,129.7 432.1,127.2 432.3,132.8 432.6,129.6 432.9,129.1 433.2,128.5 433.5,129.5 433.8,126.3 434.1,129.7 434.3,126.8 434.6,126.9 434.9,126.1 435.2,126.9 435.5,130.3 435.8,128.1 436.1,128.3 436.4,128.6 436.6,127.7 436.9,128.4 437.2,127.0 437.5,128.0 437.8,125.5 438.1,128.9 438.4,130.9 438.6,130.8 438.9,130.2 439.2,129.6 439.5,128.0 439.8,131.0 440.1,129.8 440.4,129.0 440.6,127.0 440.9,130.1 441.2,131.8 441.5,130.3 441.8,128.3 442.1,129.7 442.4,129.5 442.7,130.0 442.9,130.5 443.2,129.2 443.5,129.0 443.8,130.0 444.1,128.5 444.4,127.8 444.7,129.5 444.9,128.0 445.2,130.3 445.5,127.1 445.8,131.2 446.1,128.7 446.4,131.4 446.7,125.8 446.9,127.3 447.2,131.6 447.5,129.1 447.8,129.4 448.1,129.7 448.4,130.1 448.7,130.4 449.0,127.5 449.2,128.7 449.5,131.4 449.8,130.2 450.1,128.7 450.4,129.2 450.7,130.5 451.0,129.2 451.2,129.7 451.5,130.5 451.8,130.4 452.1,131.2 452.4,129.3 452.7,130.5 453.0,131.4 453.2,126.4 453.5,129.2 453.8,130.2 454.1,129.9 454.4,128.6 454.7,130.2 455.0,130.9 455.3,129.4 455.5,129.3 455.8,129.6 456.1,131.7 456.4,131.0 456.7,129.6 457.0,128.4 457.3,128.1 457.5,129.0 457.8,128.7 458.1,129.9 458.4,128.4 458.7,129.9 459.0,130.4 459.3,126.7 459.5,133.0 459.8,131.0 460.1,131.0 460.4,127.7 460.7,127.7 461.0,131.1 461.3,131.5 461.6,126.6 461.8,131.5 462.1,130.4 462.4,130.5 462.7,128.5 463.0,130.7 463.3,128.9 463.6,130.2 463.8,132.3 464.1,131.1 464.4,131.9 464.7,129.4 465.0,127.9 465.3,129.6 465.6,131.7 465.8,132.6 466.1,129.9 466.4,129.9 466.7,129.0 467.0,127.6 467.3,130.6 467.6,130.6 467.8,129.0 468.1,129.4 468.4,127.5 468.7,130.6 469.0,132.2 469.3,129.6 469.6,130.6 469.9,130.9 470.1,129.4 470.4,130.6 470.7,128.5 471.0,134.1 471.3,130.5 471.6,129.0 471.9,128.0 472.1,132.0 472.4,130.7 472.7,130.8 473.0,128.6 473.3,129.5 473.6,128.0 473.9,131.4 474.1,129.4 474.4,133.5 474.7,131.2 475.0,129.5 475.3,131.8 475.6,127.1 475.9,129.4 476.2,129.9 476.4,131.6 476.7,131.4 477.0,130.8 477.3,128.0 477.6,129.8 477.9,128.4 478.2,131.7 478.4,129.6 478.7,131.6 479.0,133.4 479.3,130.1 479.6,131.0 479.9,129.7 480.2,130.8 480.4,130.8 480.7,130.3 481.0,130.0 481.3,129.7 481.6,133.5 481.9,129.8 482.2,130.7 482.5,129.5 482.7,126.9 483.0,132.2 483.3,131.1 483.6,128.3 483.9,128.9 484.2,127.8 484.5,131.2 484.7,133.2 485.0,132.2 485.3,128.1 485.6,127.6 485.9,131.5 486.2,133.4 486.5,130.5 486.7,131.6 487.0,128.1 487.3,130.5 487.6,131.6 487.9,129.9 488.2,129.7 488.5,131.2 488.8,129.8 489.0,129.4 489.3,131.7 489.6,130.5 489.9,128.7 490.2,131.3 490.5,130.1 490.8,131.6 491.0,130.2 491.3,129.8 491.6,129.5 491.9,131.3 492.2,130.6 492.5,133.0 492.8,130.1 493.0,128.7 493.3,134.1 493.6,127.7 493.9,132.7 494.2,128.9 494.5,132.7 494.8,130.7 495.1,131.6 495.3,130.3 495.6,130.1 495.9,131.4 496.2,130.0 496.5,131.5 496.8,128.7 497.1,129.1 497.3,129.9 497.6,130.9 497.9,132.7 498.2,129.1 498.5,129.0 498.8,128.9 499.1,130.4 499.3,131.7 499.6,129.3 499.9,129.8 500.2,129.7 500.5,131.1 500.8,127.9 501.1,131.4 501.3,131.7 501.6,129.4 501.9,130.9 502.2,129.6 502.5,132.1 502.8,131.3 503.1,135.0 503.4,130.7 503.6,129.7 503.9,129.9 504.2,128.5 504.5,130.9 504.8,131.5 505.1,132.5 505.4,131.3 505.6,129.8 505.9,132.6 506.2,131.9 506.5,132.4 506.8,129.0 507.1,129.2 507.4,129.7 507.6,130.5 507.9,127.9 508.2,132.6 508.5,130.1 508.8,131.9 509.1,132.2 509.4,133.4 509.7,131.7 509.9,131.1 510.2,129.5 510.5,131.3 510.8,133.9 511.1,128.3 511.4,129.5 511.7,131.1 511.9,133.5 512.2,129.7 512.5,130.3 512.8,130.9 513.1,135.3 513.4,129.8 513.7,131.1 513.9,132.2 514.2,129.6 514.5,131.3 514.8,131.7 515.1,130.8 515.4,131.7 515.7,133.3 516.0,130.9 516.2,130.5 516.5,130.3 516.8,131.6 517.1,132.4 517.4,131.0 517.7,131.6 518.0,135.4 518.2,130.1 518.5,129.2 518.8,131.2 519.1,130.8 519.4,132.3 519.7,133.2 520.0,131.4 520.2,130.5 520.5,131.9 520.8,132.2 521.1,131.2 521.4,130.1 521.7,131.8 522.0,130.8 522.3,129.8 522.5,132.4 522.8,130.2 523.1,130.0 523.4,132.1 523.7,130.3 524.0,131.2 524.3,129.6 524.5,128.6 524.8,131.6 525.1,133.8 525.4,130.2 525.7,132.8 526.0,132.5 526.3,133.4 526.5,129.9 526.8,130.5 527.1,133.6 527.4,130.8 527.7,131.1 528.0,132.6 528.3,132.5 528.6,130.4 528.8,130.6 529.1,132.1 529.4,131.9 529.7,130.5 530.0,133.2 530.3,132.3 530.6,130.7 530.8,130.7 531.1,133.0 531.4,127.7 531.7,131.2 532.0,130.3 532.3,130.5 532.6,133.0 532.8,131.8 533.1,135.7 533.4,130.9 533.7,132.1 534.0,129.6 534.3,133.0 534.6,130.2 534.9,131.5 535.1,133.5 535.4,133.5 535.7,132.2 536.0,133.1 536.3,130.6 536.6,130.2 536.9,129.5 537.1,132.4 537.4,134.2 537.7,130.7 538.0,131.6" fill="none" stroke="#18d818" stroke-width="0.45" stroke-opacity="1.0" stroke-linejoin="bevel"/>
<polyline points="312.6,7.6 312.9,20.6 313.2,33.0 313.5,44.8 313.7,57.9 314.0,66.8 314.3,74.9 314.6,79.3 314.9,81.8 315.2,85.5 315.5,90.9 315.8,95.9 316.0,101.3 316.3,104.2 316.6,109.5 316.9,112.2 317.2,119.5 317.5,122.4 317.8,117.9 318.0,116.6 318.3,125.4 318.6,130.5 318.9,132.7 319.2,122.9 319.5,118.9 319.8,125.2 320.0,137.8 320.3,132.7 320.6,122.6 320.9,119.0 321.2,130.3 321.5,132.6 321.8,135.0 322.1,127.6 322.3,115.6 322.6,128.3 322.9,132.1 323.2,129.4 323.5,122.6 323.8,120.0 324.1,123.6 324.3,130.1 324.6,126.9 324.9,124.5 325.2,120.6 325.5,124.1 325.8,127.1 326.1,128.9 326.3,124.2 326.6,117.4 326.9,119.4 327.2,122.1 327.5,121.9 327.8,119.0 328.1,110.5 328.4,114.3 328.6,118.4 328.9,112.8 329.2,111.6 329.5,115.9 329.8,110.3 330.1,113.5 330.4,115.7 330.6,111.5 330.9,108.4 331.2,109.4 331.5,111.3 331.8,111.4 332.1,111.4 332.4,112.8 332.6,110.1 332.9,114.2 333.2,112.5 333.5,111.5 333.8,109.5 334.1,107.4 334.4,109.8 334.7,109.8 334.9,105.7 335.2,108.9 335.5,108.4 335.8,108.8 336.1,107.2 336.4,102.0 336.7,110.1 336.9,106.6 337.2,102.7 337.5,109.5 337.8,106.0 338.1,108.1 338.4,106.2 338.7,109.6 338.9,108.2 339.2,107.9 339.5,106.6 339.8,108.7 340.1,103.9 340.4,110.1 340.7,108.8 341.0,105.1 341.2,106.1 341.5,105.9 341.8,107.8 342.1,109.6 342.4,105.1 342.7,107.9 343.0,109.1 343.2,109.3 343.5,111.2 343.8,106.7 344.1,108.0 344.4,112.6 344.7,108.1 345.0,107.7 345.3,107.2 345.5,108.1 345.8,106.1 346.1,107.8 346.4,104.6 346.7,105.4 347.0,105.0 347.3,105.3 347.5,107.8 347.8,110.4 348.1,107.3 348.4,104.8 348.7,108.7 349.0,109.5 349.3,106.3 349.5,109.0 349.8,105.8 350.1,107.2 350.4,107.9 350.7,111.5 351.0,107.2 351.3,107.7 351.6,109.2 351.8,112.0 352.1,112.6 352.4,107.1 352.7,111.3 353.0,109.7 353.3,112.6 353.6,112.6 353.8,108.6 354.1,109.1 354.4,108.6 354.7,111.0 355.0,114.2 355.3,110.2 355.6,107.9 355.8,115.0 356.1,108.3 356.4,110.9 356.7,110.4 357.0,106.9 357.3,111.5 357.6,113.0 357.9,111.0 358.1,110.9 358.4,109.6 358.7,106.2 359.0,111.4 359.3,108.8 359.6,109.0 359.9,111.2 360.1,112.3 360.4,109.3 360.7,114.2 361.0,115.1 361.3,110.9 361.6,110.3 361.9,111.7 362.1,111.1 362.4,109.8 362.7,112.2 363.0,112.2 363.3,110.4 363.6,111.3 363.9,110.6 364.2,109.6 364.4,108.9 364.7,108.4 365.0,114.2 365.3,111.4 365.6,111.5 365.9,114.8 366.2,110.8 366.4,113.7 366.7,109.6 367.0,110.3 367.3,112.7 367.6,111.4 367.9,109.8 368.2,109.5 368.4,112.6 368.7,109.6 369.0,113.5 369.3,113.5 369.6,112.3 369.9,112.0 370.2,113.3 370.5,112.3 370.7,111.1 371.0,113.8 371.3,111.7 371.6,111.5 371.9,113.6 372.2,113.9 372.5,115.5 372.7,112.3 373.0,111.2 373.3,111.9 373.6,114.2 373.9,112.0 374.2,112.3 374.5,110.7 374.7,111.2 375.0,113.3 375.3,118.7 375.6,112.5 375.9,113.2 376.2,113.1 376.5,113.4 376.8,114.2 377.0,117.4 377.3,112.4 377.6,116.3 377.9,115.2 378.2,112.6 378.5,112.5 378.8,112.2 379.0,111.2 379.3,116.4 379.6,115.4 379.9,115.1 380.2,111.4 380.5,114.4 380.8,113.3 381.1,119.5 381.3,114.2 381.6,114.2 381.9,114.5 382.2,113.6 382.5,114.3 382.8,113.9 383.1,115.5 383.3,112.5 383.6,114.3 383.9,115.8 384.2,114.1 384.5,111.6 384.8,111.8 385.1,114.0 385.3,113.6 385.6,116.9 385.9,114.4 386.2,114.1 386.5,112.9 386.8,116.5 387.1,114.6 387.4,112.7 387.6,113.1 387.9,119.3 388.2,114.4 388.5,113.8 388.8,116.8 389.1,115.7 389.4,114.4 389.6,118.2 389.9,112.8 390.2,113.9 390.5,111.4 390.8,117.5 391.1,115.8 391.4,120.4 391.6,115.8 391.9,115.4 392.2,113.0 392.5,113.6 392.8,114.9 393.1,116.7 393.4,112.7 393.7,110.8 393.9,117.4 394.2,117.5 394.5,113.5 394.8,115.5 395.1,117.1 395.4,118.0 395.7,113.1 395.9,115.4 396.2,113.4 396.5,116.9 396.8,116.1 397.1,113.9 397.4,115.6 397.7,115.9 397.9,112.4 398.2,113.5 398.5,115.0 398.8,115.0 399.1,114.0 399.4,112.0 399.7,113.2 400.0,116.2 400.2,116.5 400.5,113.5 400.8,115.6 401.1,119.4 401.4,116.0 401.7,115.1 402.0,114.0 402.2,116.2 402.5,116.6 402.8,117.0 403.1,115.4 403.4,116.2 403.7,116.2 404.0,116.0 404.2,118.7 404.5,113.5 404.8,116.9 405.1,115.4 405.4,117.8 405.7,120.2 406.0,116.6 406.3,115.5 406.5,115.7 406.8,118.9 407.1,119.7 407.4,117.0 407.7,117.1 408.0,119.1 408.3,117.5 408.5,114.5 408.8,115.4 409.1,115.3 409.4,116.7 409.7,115.6 410.0,119.7 410.3,116.2 410.6,119.1 410.8,115.0 411.1,119.1 411.4,117.7 411.7,119.7 412.0,120.0 412.3,119.4 412.6,118.7 412.8,116.1 413.1,115.9 413.4,111.1 413.7,119.0 414.0,119.2 414.3,119.4 414.6,115.5 414.8,121.8 415.1,115.3 415.4,118.5 415.7,114.8 416.0,116.6 416.3,119.2 416.6,118.5 416.9,115.2 417.1,117.6 417.4,119.8 417.7,113.9 418.0,118.1 418.3,114.4 418.6,119.0 418.9,117.5 419.1,119.1 419.4,116.0 419.7,116.6 420.0,117.3 420.3,116.3 420.6,117.0 420.9,115.1 421.1,116.2 421.4,119.1 421.7,117.5 422.0,119.5 422.3,118.3 422.6,118.8 422.9,115.9 423.2,119.0 423.4,120.3 423.7,118.8 424.0,119.5 424.3,120.8 424.6,115.7 424.9,118.9 425.2,118.3 425.4,117.1 425.7,115.8 426.0,118.7 426.3,117.8 426.6,120.9 426.9,119.9 427.2,117.5 427.4,116.7 427.7,116.7 428.0,117.5 428.3,116.3 428.6,121.8 428.9,116.6 429.2,118.2 429.5,118.0 429.7,118.4 430.0,116.7 430.3,118.4 430.6,118.8 430.9,118.4 431.2,116.7 431.5,117.8 431.7,119.2 432.0,122.0 432.3,115.8 432.6,119.1 432.9,121.2 433.2,116.4 433.5,121.3 433.7,120.6 434.0,118.0 434.3,120.1 434.6,121.6 434.9,118.6 435.2,118.6 435.5,116.0 435.8,117.2 436.0,119.2 436.3,118.8 436.6,121.2 436.9,117.6 437.2,116.3 437.5,120.7 437.8,120.7 438.0,119.1 438.3,117.8 438.6,117.1 438.9,118.0 439.2,121.8 439.5,119.9 439.8,118.3 440.0,119.3 440.3,118.5 440.6,117.5 440.9,117.8 441.2,118.1 441.5,115.6 441.8,116.6 442.1,116.1 442.3,117.9 442.6,119.3 442.9,116.1 443.2,117.1 443.5,116.4 443.8,117.9 444.1,116.1 444.3,116.6 444.6,117.1 444.9,123.3 445.2,118.6 445.5,117.1 445.8,117.6 446.1,120.6 446.4,121.0 446.6,119.3 446.9,114.8 447.2,120.2 447.5,121.0 447.8,120.7 448.1,119.8 448.4,118.5 448.6,120.6 448.9,118.5 449.2,121.3 449.5,118.1 449.8,117.8 450.1,117.7 450.4,118.1 450.6,118.6 450.9,120.4 451.2,121.3 451.5,117.3 451.8,117.2 452.1,121.7 452.4,118.6 452.7,119.1 452.9,118.8 453.2,120.7 453.5,117.9 453.8,121.3 454.1,120.1 454.4,114.7 454.7,118.8 454.9,118.9 455.2,120.0 455.5,118.6 455.8,117.3 456.1,118.5 456.4,120.2 456.7,119.5 456.9,118.5 457.2,122.6 457.5,120.1 457.8,117.6 458.1,119.7 458.4,119.5 458.7,116.9 459.0,119.3 459.2,118.1 459.5,115.6 459.8,119.6 460.1,119.9 460.4,120.2 460.7,119.4 461.0,118.6 461.2,119.5 461.5,119.5 461.8,120.8 462.1,122.1 462.4,121.1 462.7,118.1 463.0,118.7 463.2,116.7 463.5,121.0 463.8,120.8 464.1,121.4 464.4,119.8 464.7,122.0 465.0,118.5 465.3,120.4 465.5,118.9 465.8,118.6 466.1,116.1 466.4,118.4 466.7,116.4 467.0,118.8 467.3,117.8 467.5,119.4 467.8,116.5 468.1,119.0 468.4,119.0 468.7,114.9 469.0,122.1 469.3,120.6 469.5,118.6 469.8,122.9 470.1,121.5 470.4,114.8 470.7,119.2 471.0,118.9 471.3,119.7 471.6,117.4 471.8,118.7 472.1,119.9 472.4,115.6 472.7,119.9 473.0,121.7 473.3,119.5 473.6,121.8 473.8,122.9 474.1,120.3 474.4,120.0 474.7,120.0 475.0,119.1 475.3,124.2 475.6,120.7 475.9,120.4 476.1,121.1 476.4,122.5 476.7,117.8 477.0,118.2 477.3,119.7 477.6,120.3 477.9,117.7 478.1,117.8 478.4,121.4 478.7,120.8 479.0,118.9 479.3,119.3 479.6,119.1 479.9,118.0 480.1,118.0 480.4,119.7 480.7,119.5 481.0,122.0 481.3,117.8 481.6,116.6 481.9,120.4 482.2,118.1 482.4,119.7 482.7,120.2 483.0,117.4 483.3,116.6 483.6,120.2 483.9,115.3 484.2,121.3 484.4,116.5 484.7,120.8 485.0,120.2 485.3,120.6 485.6,121.0 485.9,119.9 486.2,116.9 486.4,121.2 486.7,120.4 487.0,121.0 487.3,119.5 487.6,119.0 487.9,121.3 488.2,121.9 488.5,120.7 488.7,117.7 489.0,117.8 489.3,117.9 489.6,122.2 489.9,121.2 490.2,120.0 490.5,119.3 490.7,118.4 491.0,121.7 491.3,118.5 491.6,118.5 491.9,121.1 492.2,120.9 492.5,120.1 492.7,118.2 493.0,117.8 493.3,121.2 493.6,120.5 493.9,123.0 494.2,119.7 494.5,120.0 494.8,118.1 495.0,122.8 495.3,117.3 495.6,121.7 495.9,123.1 496.2,118.1 496.5,117.3 496.8,118.5 497.0,118.0 497.3,120.9 497.6,119.7 497.9,118.2 498.2,119.8 498.5,123.3 498.8,119.9 499.0,119.2 499.3,123.3 499.6,118.7 499.9,119.8 500.2,123.0 500.5,120.0 500.8,116.4 501.1,118.7 501.3,116.5 501.6,119.2 501.9,120.5 502.2,116.9 502.5,122.9 502.8,122.8 503.1,121.9 503.3,118.7 503.6,119.9 503.9,121.2 504.2,122.3 504.5,122.8 504.8,116.1 505.1,118.6 505.3,118.1 505.6,119.9 505.9,120.9 506.2,124.2 506.5,119.7 506.8,121.8 507.1,120.8 507.4,120.5 507.6,123.2 507.9,117.9 508.2,121.4 508.5,124.3 508.8,126.7 509.1,119.2 509.4,118.2 509.6,117.9 509.9,119.8 510.2,120.6 510.5,120.2 510.8,121.9 511.1,119.6 511.4,121.1 511.7,117.6 511.9,119.0 512.2,119.7 512.5,115.8 512.8,120.8 513.1,122.2 513.4,120.4 513.7,120.3 513.9,120.1 514.2,118.4 514.5,120.7 514.8,119.3 515.1,120.2 515.4,120.2 515.7,120.7 515.9,118.3 516.2,120.3 516.5,123.2 516.8,121.8 517.1,120.1 517.4,119.4 517.7,122.2 518.0,120.0 518.2,116.9 518.5,119.7 518.8,123.7 519.1,117.4 519.4,120.2 519.7,118.7 520.0,120.3 520.2,119.9 520.5,118.9 520.8,115.4 521.1,119.7 521.4,120.5 521.7,120.4 522.0,118.5 522.2,119.0 522.5,124.1 522.8,118.4 523.1,120.1 523.4,118.2 523.7,119.7 524.0,120.5 524.3,122.6 524.5,121.1 524.8,120.6 525.1,120.8 525.4,121.1 525.7,120.3 526.0,120.7 526.3,122.8 526.5,118.9 526.8,119.9 527.1,118.7 527.4,119.8 527.7,123.3 528.0,119.0 528.3,121.0 528.5,124.2 528.8,121.7 529.1,120.4 529.4,118.9 529.7,115.5 530.0,118.6 530.3,119.0 530.6,122.4 530.8,121.6 531.1,117.8 531.4,121.5 531.7,119.6 532.0,124.0 532.3,123.1 532.6,121.4 532.8,119.7 533.1,124.0 533.4,122.4 533.7,122.6 534.0,121.2 534.3,120.0 534.6,122.3 534.8,119.4 535.1,122.0 535.4,120.7 535.7,117.5 536.0,121.7 536.3,120.9 536.6,119.9 536.9,120.2 537.1,121.9 537.4,118.8 537.7,119.0 538.0,122.0" fill="none" stroke="#3535ff" stroke-width="0.45" stroke-opacity="1.0" stroke-linejoin="bevel"/>
<polyline points="312.9,8.3 313.2,20.7 313.5,32.2 313.8,44.3 314.0,55.7 314.3,67.2 314.6,73.8 314.9,76.1 315.2,82.4 315.5,84.3 315.8,89.4 316.1,94.7 316.3,98.6 316.6,101.5 316.9,109.7 317.2,116.2 317.5,125.0 317.8,126.4 318.1,117.7 318.3,118.0 318.6,122.7 318.9,133.7 319.2,127.5 319.5,124.5 319.8,120.0 320.1,128.5 320.3,131.9 320.6,127.7 320.9,121.1 321.2,119.6 321.5,129.6 321.8,133.9 322.1,134.3 322.4,121.9 322.6,118.5 322.9,123.8 323.2,133.7 323.5,129.1 323.8,121.8 324.1,121.1 324.4,119.5 324.6,127.4 324.9,123.9 325.2,119.8 325.5,118.0 325.8,121.4 326.1,120.1 326.4,117.3 326.6,119.3 326.9,118.5 327.2,114.6 327.5,119.7 327.8,119.0 328.1,110.9 328.4,107.2 328.7,113.6 328.9,117.1 329.2,112.7 329.5,112.8 329.8,109.4 330.1,109.3 330.4,110.4 330.7,116.1 330.9,111.3 331.2,108.8 331.5,108.4 331.8,111.9 332.1,110.3 332.4,110.3 332.7,106.5 332.9,109.0 333.2,108.7 333.5,110.9 333.8,105.0 334.1,105.3 334.4,104.1 334.7,111.1 335.0,106.5 335.2,107.0 335.5,102.4 335.8,104.0 336.1,103.1 336.4,107.1 336.7,104.6 337.0,109.2 337.2,103.7 337.5,108.7 337.8,106.7 338.1,107.6 338.4,103.5 338.7,105.2 339.0,105.7 339.2,104.9 339.5,107.4 339.8,101.9 340.1,104.6 340.4,105.3 340.7,106.7 341.0,103.7 341.3,106.8 341.5,103.2 341.8,104.6 342.1,104.6 342.4,105.7 342.7,106.5 343.0,111.7 343.3,100.2 343.5,108.9 343.8,108.7 344.1,109.2 344.4,106.1 344.7,107.3 345.0,111.0 345.3,107.3 345.5,106.7 345.8,105.9 346.1,107.6 346.4,111.4 346.7,105.7 347.0,109.4 347.3,101.3 347.6,108.0 347.8,107.0 348.1,110.9 348.4,109.1 348.7,108.5 349.0,108.6 349.3,109.0 349.6,104.1 349.8,108.4 350.1,104.3 350.4,110.0 350.7,107.2 351.0,108.9 351.3,107.0 351.6,107.7 351.8,108.3 352.1,109.9 352.4,106.4 352.7,111.8 353.0,105.4 353.3,107.7 353.6,103.1 353.9,110.0 354.1,110.9 354.4,110.7 354.7,109.4 355.0,110.3 355.3,108.2 355.6,108.2 355.9,107.9 356.1,108.9 356.4,107.1 356.7,109.1 357.0,110.6 357.3,109.0 357.6,108.5 357.9,107.9 358.1,110.9 358.4,110.2 358.7,112.2 359.0,109.1 359.3,112.0 359.6,107.7 359.9,113.9 360.2,106.4 360.4,109.1 360.7,109.3 361.0,109.4 361.3,109.6 361.6,108.4 361.9,109.6 362.2,110.8 362.4,113.3 362.7,113.2 363.0,113.5 363.3,110.6 363.6,108.7 363.9,116.0 364.2,112.0 364.4,104.7 364.7,111.4 365.0,110.2 365.3,109.8 365.6,109.9 365.9,110.4 366.2,108.3 366.5,111.2 366.7,111.1 367.0,111.0 367.3,111.5 367.6,110.9 367.9,114.2 368.2,112.7 368.5,109.7 368.7,110.9 369.0,114.0 369.3,114.6 369.6,110.3 369.9,113.3 370.2,110.2 370.5,110.2 370.8,108.1 371.0,108.8 371.3,111.6 371.6,112.0 371.9,112.0 372.2,109.7 372.5,111.8 372.8,112.7 373.0,111.4 373.3,105.5 373.6,109.4 373.9,112.6 374.2,113.8 374.5,110.1 374.8,113.5 375.0,105.7 375.3,115.1 375.6,111.4 375.9,112.2 376.2,109.7 376.5,109.5 376.8,112.1 377.1,113.2 377.3,110.2 377.6,113.4 377.9,111.2 378.2,113.1 378.5,111.8 378.8,111.4 379.1,112.0 379.3,109.5 379.6,114.4 379.9,110.9 380.2,113.8 380.5,110.0 380.8,111.9 381.1,111.8 381.3,116.1 381.6,116.6 381.9,111.7 382.2,113.5 382.5,113.8 382.8,115.4 383.1,115.6 383.4,116.4 383.6,113.0 383.9,110.0 384.2,115.5 384.5,113.1 384.8,112.8 385.1,115.4 385.4,116.7 385.6,114.5 385.9,116.5 386.2,114.2 386.5,114.7 386.8,113.6 387.1,117.1 387.4,113.1 387.6,113.6 387.9,115.1 388.2,112.0 388.5,115.3 388.8,115.3 389.1,115.2 389.4,116.7 389.7,109.9 389.9,116.5 390.2,115.3 390.5,116.1 390.8,114.8 391.1,112.8 391.4,113.7 391.7,112.8 391.9,116.3 392.2,112.4 392.5,114.7 392.8,114.4 393.1,111.0 393.4,113.5 393.7,113.3 393.9,116.8 394.2,114.5 394.5,112.8 394.8,113.2 395.1,115.3 395.4,115.3 395.7,116.0 396.0,116.4 396.2,113.0 396.5,115.7 396.8,114.9 397.1,111.2 397.4,114.1 397.7,117.1 398.0,113.1 398.2,113.7 398.5,115.2 398.8,115.7 399.1,114.8 399.4,115.3 399.7,113.1 400.0,112.6 400.2,115.5 400.5,114.9 400.8,116.2 401.1,118.4 401.4,116.3 401.7,117.4 402.0,118.4 402.3,116.1 402.5,116.0 402.8,113.8 403.1,115.2 403.4,114.1 403.7,114.1 404.0,116.7 404.3,116.8 404.5,116.1 404.8,111.7 405.1,116.0 405.4,115.9 405.7,113.5 406.0,116.3 406.3,115.2 406.5,116.2 406.8,111.2 407.1,113.3 407.4,118.5 407.7,114.0 408.0,113.7 408.3,114.2 408.6,116.1 408.8,118.6 409.1,115.9 409.4,117.0 409.7,115.9 410.0,114.8 410.3,119.3 410.6,118.1 410.8,114.8 411.1,114.9 411.4,114.0 411.7,113.3 412.0,116.1 412.3,117.6 412.6,110.1 412.8,114.8 413.1,120.4 413.4,119.5 413.7,114.2 414.0,114.4 414.3,118.6 414.6,114.9 414.9,116.7 415.1,114.6 415.4,116.6 415.7,116.6 416.0,120.2 416.3,115.1 416.6,113.3 416.9,115.2 417.1,116.8 417.4,116.4 417.7,121.6 418.0,115.5 418.3,115.6 418.6,118.0 418.9,120.2 419.1,117.5 419.4,117.8 419.7,113.8 420.0,114.6 420.3,117.7 420.6,118.8 420.9,117.8 421.2,117.2 421.4,118.0 421.7,117.2 422.0,116.9 422.3,116.5 422.6,114.0 422.9,115.4 423.2,115.9 423.4,118.8 423.7,121.7 424.0,118.0 424.3,120.5 424.6,115.9 424.9,117.1 425.2,117.1 425.4,119.0 425.7,120.7 426.0,119.4 426.3,118.9 426.6,118.1 426.9,116.0 427.2,118.1 427.5,118.6 427.7,118.3 428.0,116.3 428.3,117.5 428.6,117.0 428.9,116.4 429.2,120.5 429.5,117.9 429.7,118.5 430.0,115.2 430.3,117.1 430.6,117.1 430.9,116.2 431.2,117.7 431.5,116.9 431.8,115.7 432.0,117.2 432.3,118.3 432.6,117.5 432.9,120.8 433.2,113.7 433.5,120.1 433.8,119.7 434.0,118.5 434.3,116.1 434.6,116.6 434.9,114.9 435.2,119.2 435.5,116.7 435.8,116.5 436.0,120.9 436.3,116.8 436.6,118.4 436.9,119.0 437.2,117.3 437.5,118.7 437.8,119.1 438.1,119.1 438.3,115.8 438.6,115.4 438.9,120.0 439.2,119.6 439.5,118.3 439.8,116.8 440.1,120.3 440.3,117.4 440.6,116.9 440.9,120.6 441.2,116.3 441.5,117.1 441.8,118.2 442.1,116.6 442.3,119.3 442.6,118.8 442.9,118.7 443.2,117.7 443.5,121.5 443.8,118.8 444.1,117.5 444.4,118.5 444.6,117.2 444.9,114.3 445.2,121.1 445.5,115.3 445.8,114.4 446.1,118.7 446.4,117.5 446.6,120.9 446.9,120.3 447.2,120.0 447.5,117.7 447.8,119.3 448.1,116.7 448.4,119.9 448.6,117.9 448.9,117.9 449.2,118.9 449.5,119.1 449.8,119.4 450.1,119.5 450.4,117.9 450.7,117.8 450.9,116.6 451.2,121.6 451.5,118.7 451.8,117.4 452.1,115.7 452.4,120.0 452.7,116.4 452.9,118.6 453.2,117.3 453.5,120.5 453.8,118.2 454.1,116.7 454.4,114.4 454.7,117.0 454.9,121.4 455.2,119.4 455.5,118.0 455.8,120.2 456.1,116.8 456.4,120.2 456.7,116.6 457.0,116.6 457.2,119.7 457.5,115.5 457.8,120.4 458.1,118.9 458.4,122.2 458.7,117.2 459.0,117.5 459.2,121.2 459.5,117.8 459.8,119.3 460.1,116.7 460.4,119.8 460.7,118.5 461.0,117.1 461.2,119.1 461.5,116.7 461.8,119.4 462.1,116.4 462.4,123.3 462.7,123.1 463.0,115.3 463.3,119.0 463.5,117.0 463.8,117.7 464.1,116.9 464.4,121.3 464.7,114.9 465.0,121.5 465.3,116.1 465.5,120.7 465.8,118.4 466.1,117.3 466.4,116.9 466.7,118.5 467.0,119.8 467.3,121.6 467.5,115.1 467.8,119.1 468.1,118.8 468.4,117.9 468.7,118.6 469.0,118.4 469.3,117.0 469.6,118.2 469.8,119.9 470.1,118.1 470.4,119.2 470.7,117.0 471.0,119.6 471.3,120.2 471.6,119.8 471.8,119.1 472.1,118.7 472.4,118.8 472.7,118.3 473.0,118.0 473.3,118.9 473.6,116.0 473.8,122.1 474.1,117.1 474.4,119.0 474.7,121.0 475.0,121.8 475.3,120.4 475.6,119.8 475.9,116.9 476.1,119.6 476.4,118.3 476.7,116.8 477.0,119.1 477.3,121.3 477.6,120.1 477.9,119.7 478.1,120.9 478.4,120.8 478.7,120.3 479.0,118.7 479.3,119.3 479.6,118.7 479.9,118.8 480.1,118.3 480.4,122.1 480.7,120.1 481.0,120.9 481.3,119.9 481.6,120.2 481.9,118.1 482.2,118.0 482.4,121.0 482.7,123.1 483.0,116.4 483.3,117.9 483.6,117.5 483.9,117.0 484.2,118.6 484.4,118.7 484.7,117.1 485.0,119.3 485.3,116.1 485.6,122.0 485.9,120.9 486.2,118.4 486.5,116.9 486.7,117.3 487.0,119.6 487.3,122.5 487.6,121.2 487.9,120.5 488.2,117.2 488.5,119.5 488.7,120.9 489.0,120.0 489.3,119.5 489.6,118.8 489.9,119.0 490.2,119.7 490.5,119.7 490.7,118.9 491.0,121.1 491.3,118.5 491.6,123.5 491.9,120.4 492.2,118.8 492.5,120.8 492.8,120.6 493.0,117.0 493.3,119.0 493.6,121.3 493.9,119.6 494.2,122.3 494.5,118.9 494.8,119.6 495.0,118.4 495.3,119.3 495.6,118.5 495.9,118.7 496.2,121.7 496.5,117.3 496.8,118.6 497.0,121.3 497.3,123.5 497.6,122.6 497.9,120.7 498.2,118.8 498.5,119.7 498.8,121.6 499.1,119.7 499.3,116.3 499.6,119.4 499.9,119.1 500.2,115.1 500.5,119.5 500.8,118.3 501.1,119.8 501.3,119.7 501.6,122.2 501.9,122.0 502.2,118.5 502.5,116.8 502.8,119.5 503.1,122.5 503.3,119.8 503.6,119.6 503.9,120.0 504.2,119.3 504.5,119.6 504.8,119.6 505.1,119.2 505.4,117.0 505.6,122.5 505.9,118.1 506.2,121.7 506.5,118.0 506.8,121.0 507.1,119.8 507.4,120.8 507.6,123.4 507.9,120.4 508.2,117.9 508.5,118.4 508.8,117.0 509.1,117.5 509.4,117.8 509.6,120.6 509.9,118.7 510.2,121.0 510.5,118.5 510.8,117.7 511.1,118.4 511.4,118.0 511.7,119.7 511.9,123.7 512.2,119.8 512.5,120.9 512.8,119.7 513.1,117.9 513.4,117.9 513.7,121.1 513.9,118.9 514.2,120.3 514.5,118.5 514.8,117.4 515.1,120.3 515.4,119.2 515.7,116.8 515.9,120.7 516.2,122.4 516.5,119.5 516.8,119.6 517.1,118.5 517.4,119.1 517.7,120.7 518.0,121.8 518.2,119.0 518.5,118.7 518.8,118.2 519.1,120.3 519.4,120.8 519.7,118.9 520.0,117.1 520.2,121.5 520.5,121.2 520.8,118.5 521.1,122.0 521.4,119.4 521.7,119.9 522.0,118.7 522.2,121.3 522.5,121.2 522.8,117.3 523.1,119.7 523.4,116.3 523.7,117.4 524.0,118.2 524.3,120.7 524.5,120.0 524.8,120.7 525.1,119.0 525.4,120.5 525.7,117.2 526.0,120.9 526.3,118.1 526.5,120.6 526.8,122.2 527.1,121.1 527.4,121.5 527.7,121.3 528.0,115.7 528.3,118.4 528.5,120.9 528.8,119.5 529.1,118.8 529.4,121.0 529.7,121.8 530.0,118.3 530.3,120.8 530.6,120.6 530.8,121.3 531.1,122.8 531.4,119.4 531.7,121.7 532.0,123.4 532.3,117.8 532.6,119.9 532.8,118.8 533.1,121.0 533.4,119.0 533.7,119.8 534.0,121.3 534.3,119.5 534.6,117.8 534.8,119.0 535.1,118.8 535.4,117.8 535.7,121.2 536.0,122.5 536.3,118.4 536.6,124.1 536.9,120.9 537.1,116.7 537.4,116.7 537.7,118.0 538.0,122.2" fill="none" stroke="#ff8a10" stroke-width="0.45" stroke-opacity="1.0" stroke-linejoin="bevel"/>
<polyline points="312.64,30.0 312.67,40.0 313.02,50.0 313.28,60.0 313.93,70.0 314.22,80.0 314.99,90.0 315.84,100.0" fill="none" stroke="#ff2020" stroke-width="0.7" stroke-opacity="0.8" stroke-linejoin="bevel"/>
<polyline points="313.05,30.0 313.36,40.0 313.22,50.0 313.05,60.0 313.61,70.0 314.62,80.0 315.24,90.0 315.75,100.0" fill="none" stroke="#8a7a9a" stroke-width="0.7" stroke-opacity="0.8" stroke-linejoin="bevel"/>
<polyline points="313.08,30.0 313.00,40.0 313.24,50.0 313.40,60.0 313.86,70.0 314.61,80.0 315.39,90.0 316.18,100.0" fill="none" stroke="#3535ff" stroke-width="0.7" stroke-opacity="0.8" stroke-linejoin="bevel"/>
<polyline points="313.48,30.0 313.70,40.0 313.34,50.0 313.75,60.0 314.10,70.0 314.77,80.0 315.44,90.0 316.60,100.0" fill="none" stroke="#ff8a10" stroke-width="0.7" stroke-opacity="0.8" stroke-linejoin="bevel"/>
<polyline points="312.49,30.0 312.57,40.0 312.56,50.0 312.82,60.0 313.18,70.0 313.63,80.0 314.84,90.0 315.48,100.0" fill="none" stroke="#18d818" stroke-width="0.7" stroke-opacity="0.8" stroke-linejoin="bevel"/>
<polyline points="312.93,7.5 312.87,10.7 312.36,13.9 312.84,17.1 312.59,20.4 312.85,23.6 312.88,26.8 312.50,30.0" fill="none" stroke="#8a7a9a" stroke-width="0.7" stroke-opacity="0.8" stroke-linejoin="bevel"/>
<polyline points="312.85,7.5 312.88,10.7 313.15,13.9 312.75,17.1 313.16,20.4 312.82,23.6 313.01,26.8 312.93,30.0" fill="none" stroke="#3535ff" stroke-width="0.7" stroke-opacity="0.8" stroke-linejoin="bevel"/>
<polyline points="312.59,7.5 312.44,10.7 312.84,13.9 312.51,17.1 312.58,20.4 312.61,23.6 312.35,26.8 312.49,30.0" fill="none" stroke="#18d818" stroke-width="0.7" stroke-opacity="0.8" stroke-linejoin="bevel"/>
<polyline points="312.87,7.5 312.55,10.7 312.69,13.9 312.68,17.1 312.84,20.4 312.67,23.6 312.74,26.8 312.85,30.0" fill="none" stroke="#ff2020" stroke-width="0.7" stroke-opacity="0.8" stroke-linejoin="bevel"/>
<polyline points="313.22,7.5 313.06,10.7 313.44,13.9 313.03,17.1 313.07,20.4 313.09,23.6 313.56,26.8 313.33,30.0" fill="none" stroke="#ff8a10" stroke-width="0.7" stroke-opacity="0.8" stroke-linejoin="bevel"/>
<path d="M35.0 7.5V215.35H263.5" fill="none" stroke="#111" stroke-width="1"/>
<path d="M35.0 215.00h5M35.0 209.81h2.5M35.0 204.62h2.5M35.0 199.44h2.5M35.0 194.25h2.5M35.0 189.06h5M35.0 183.88h2.5M35.0 178.69h2.5M35.0 173.50h2.5M35.0 168.31h2.5M35.0 163.12h5M35.0 157.94h2.5M35.0 152.75h2.5M35.0 147.56h2.5M35.0 142.38h2.5M35.0 137.19h5M35.0 132.00h2.5M35.0 126.81h2.5M35.0 121.62h2.5M35.0 116.44h2.5M35.0 111.25h5M35.0 106.06h2.5M35.0 100.88h2.5M35.0 95.69h2.5M35.0 90.50h2.5M35.0 85.31h5M35.0 80.12h2.5M35.0 74.94h2.5M35.0 69.75h2.5M35.0 64.56h2.5M35.0 59.38h5M35.0 54.19h2.5M35.0 49.00h2.5M35.0 43.81h2.5M35.0 38.62h2.5M35.0 33.44h5M35.0 28.25h2.5M35.0 23.06h2.5M35.0 17.88h2.5M35.0 12.69h2.5M35.0 7.50h5M35.00 215.35v-5M44.14 215.35v-2.5M53.28 215.35v-2.5M62.42 215.35v-2.5M71.56 215.35v-2.5M80.70 215.35v-5M89.84 215.35v-2.5M98.98 215.35v-2.5M108.12 215.35v-2.5M117.26 215.35v-2.5M126.40 215.35v-5M135.54 215.35v-2.5M144.68 215.35v-2.5M153.82 215.35v-2.5M162.96 215.35v-2.5M172.10 215.35v-5M181.24 215.35v-2.5M190.38 215.35v-2.5M199.52 215.35v-2.5M208.66 215.35v-2.5M217.80 215.35v-5M226.94 215.35v-2.5M236.08 215.35v-2.5M245.22 215.35v-2.5M254.36 215.35v-2.5M263.50 215.35v-5" fill="none" stroke="#111" stroke-width="0.8"/>
<text transform="translate(31.70,217.95) scale(0.93,1)" text-anchor="end" class="t">0</text>
<text transform="translate(31.70,192.01) scale(0.93,1)" text-anchor="end" class="t">0.0005</text>
<text transform="translate(31.70,166.07) scale(0.93,1)" text-anchor="end" class="t">0.001</text>
<text transform="translate(31.70,140.14) scale(0.93,1)" text-anchor="end" class="t">0.0015</text>
<text transform="translate(31.70,114.20) scale(0.93,1)" text-anchor="end" class="t">0.002</text>
<text transform="translate(31.70,88.26) scale(0.93,1)" text-anchor="end" class="t">0.0025</text>
<text transform="translate(31.70,62.33) scale(0.93,1)" text-anchor="end" class="t">0.003</text>
<text transform="translate(31.70,36.39) scale(0.93,1)" text-anchor="end" class="t">0.0035</text>
<text transform="translate(31.70,10.45) scale(0.93,1)" text-anchor="end" class="t">0.004</text>
<text transform="translate(80.70,224.20) scale(0.93,1)" text-anchor="middle" class="t">10</text>
<text transform="translate(126.40,224.20) scale(0.93,1)" text-anchor="middle" class="t">20</text>
<text transform="translate(172.10,224.20) scale(0.93,1)" text-anchor="middle" class="t">30</text>
<text transform="translate(217.80,224.20) scale(0.93,1)" text-anchor="middle" class="t">40</text>
<text transform="translate(263.50,224.20) scale(0.93,1)" text-anchor="middle" class="t">50</text>
<path d="M309.5 7.5V215.35H538.0" fill="none" stroke="#111" stroke-width="1"/>
<path d="M309.5 215.00h5M309.5 204.62h2.5M309.5 194.25h2.5M309.5 183.88h2.5M309.5 173.50h2.5M309.5 163.12h5M309.5 152.75h2.5M309.5 142.38h2.5M309.5 132.00h2.5M309.5 121.62h2.5M309.5 111.25h5M309.5 100.88h2.5M309.5 90.50h2.5M309.5 80.12h2.5M309.5 69.75h2.5M309.5 59.38h5M309.5 49.00h2.5M309.5 38.62h2.5M309.5 28.25h2.5M309.5 17.88h2.5M309.5 7.50h5M309.50 215.35v-5M318.64 215.35v-2.5M327.78 215.35v-2.5M336.92 215.35v-2.5M346.06 215.35v-2.5M355.20 215.35v-5M364.34 215.35v-2.5M373.48 215.35v-2.5M382.62 215.35v-2.5M391.76 215.35v-2.5M400.90 215.35v-5M410.04 215.35v-2.5M419.18 215.35v-2.5M428.32 215.35v-2.5M437.46 215.35v-2.5M446.60 215.35v-5M455.74 215.35v-2.5M464.88 215.35v-2.5M474.02 215.35v-2.5M483.16 215.35v-2.5M492.30 215.35v-5M501.44 215.35v-2.5M510.58 215.35v-2.5M519.72 215.35v-2.5M528.86 215.35v-2.5M538.00 215.35v-5" fill="none" stroke="#111" stroke-width="0.8"/>
<text transform="translate(306.20,217.95) scale(0.93,1)" text-anchor="end" class="t">0</text>
<text transform="translate(306.20,166.07) scale(0.93,1)" text-anchor="end" class="t">0.05</text>
<text transform="translate(306.20,114.20) scale(0.93,1)" text-anchor="end" class="t">0.1</text>
<text transform="translate(306.20,62.33) scale(0.93,1)" text-anchor="end" class="t">0.15</text>
<text transform="translate(306.20,10.45) scale(0.93,1)" text-anchor="end" class="t">0.2</text>
<text transform="translate(355.20,224.20) scale(0.93,1)" text-anchor="middle" class="t">10</text>
<text transform="translate(400.90,224.20) scale(0.93,1)" text-anchor="middle" class="t">20</text>
<text transform="translate(446.60,224.20) scale(0.93,1)" text-anchor="middle" class="t">30</text>
<text transform="translate(492.30,224.20) scale(0.93,1)" text-anchor="middle" class="t">40</text>
<text transform="translate(538.00,224.20) scale(0.93,1)" text-anchor="middle" class="t">50</text>
<rect x="187.0" y="5.4" width="84.6" height="63.1" fill="#fff" stroke="#c4c4c4" stroke-width="1"/>
<line x1="193.10" x2="230.40" y1="19.30" y2="19.30" stroke="#ff2020" stroke-width="0.5" stroke-opacity="0.55"/>
<text x="237.00" y="21.60" class="lg">Mesh 1</text>
<line x1="193.10" x2="230.40" y1="29.10" y2="29.10" stroke="#18d818" stroke-width="0.5" stroke-opacity="0.55"/>
<text x="237.00" y="31.40" class="lg">Mesh 2</text>
<line x1="193.10" x2="230.40" y1="38.90" y2="38.90" stroke="#3535ff" stroke-width="0.5" stroke-opacity="0.55"/>
<text x="237.00" y="41.20" class="lg">Mesh 3</text>
<line x1="193.10" x2="230.40" y1="48.70" y2="48.70" stroke="#888888" stroke-width="0.5" stroke-opacity="0.55"/>
<text x="237.00" y="51.00" class="lg">Mesh 4</text>
<line x1="193.10" x2="230.40" y1="58.50" y2="58.50" stroke="#ff8a10" stroke-width="0.5" stroke-opacity="0.55"/>
<text x="237.00" y="60.80" class="lg">Mesh 5</text>
<rect x="461.6" y="5.2" width="84.8" height="63.3" fill="#fff" stroke="#c4c4c4" stroke-width="1"/>
<line x1="467.70" x2="505.00" y1="19.30" y2="19.30" stroke="#ff2020" stroke-width="0.5" stroke-opacity="0.55"/>
<text x="511.60" y="21.60" class="lg">Mesh 1</text>
<line x1="467.70" x2="505.00" y1="29.10" y2="29.10" stroke="#18d818" stroke-width="0.5" stroke-opacity="0.55"/>
<text x="511.60" y="31.40" class="lg">Mesh 2</text>
<line x1="467.70" x2="505.00" y1="38.90" y2="38.90" stroke="#3535ff" stroke-width="0.5" stroke-opacity="0.55"/>
<text x="511.60" y="41.20" class="lg">Mesh 3</text>
<line x1="467.70" x2="505.00" y1="48.70" y2="48.70" stroke="#888888" stroke-width="0.5" stroke-opacity="0.55"/>
<text x="511.60" y="51.00" class="lg">Mesh 4</text>
<line x1="467.70" x2="505.00" y1="58.50" y2="58.50" stroke="#ff8a10" stroke-width="0.5" stroke-opacity="0.55"/>
<text x="511.60" y="60.80" class="lg">Mesh 5</text>
<text x="149.25" y="232.8" text-anchor="middle" class="ax">Rev</text>
<text x="423.75" y="232.8" text-anchor="middle" class="ax">Rev</text>
<text transform="translate(10.8,109.4) rotate(-90)" class="ax" style="font-size:10px">C</text>
<text transform="translate(14.0,101.3) rotate(-90) scale(0.78,1)" class="ax" style="font-size:6.2px">T</text>
<text transform="translate(284.8,118.2) rotate(-90)" class="ax" style="font-size:9.4px">FM</text>
<text x="142.5" y="253.5" text-anchor="middle" class="cap">(a)</text>
<text x="422.5" y="253.5" text-anchor="middle" class="cap">(b)</text>
</svg>
</body></html>
